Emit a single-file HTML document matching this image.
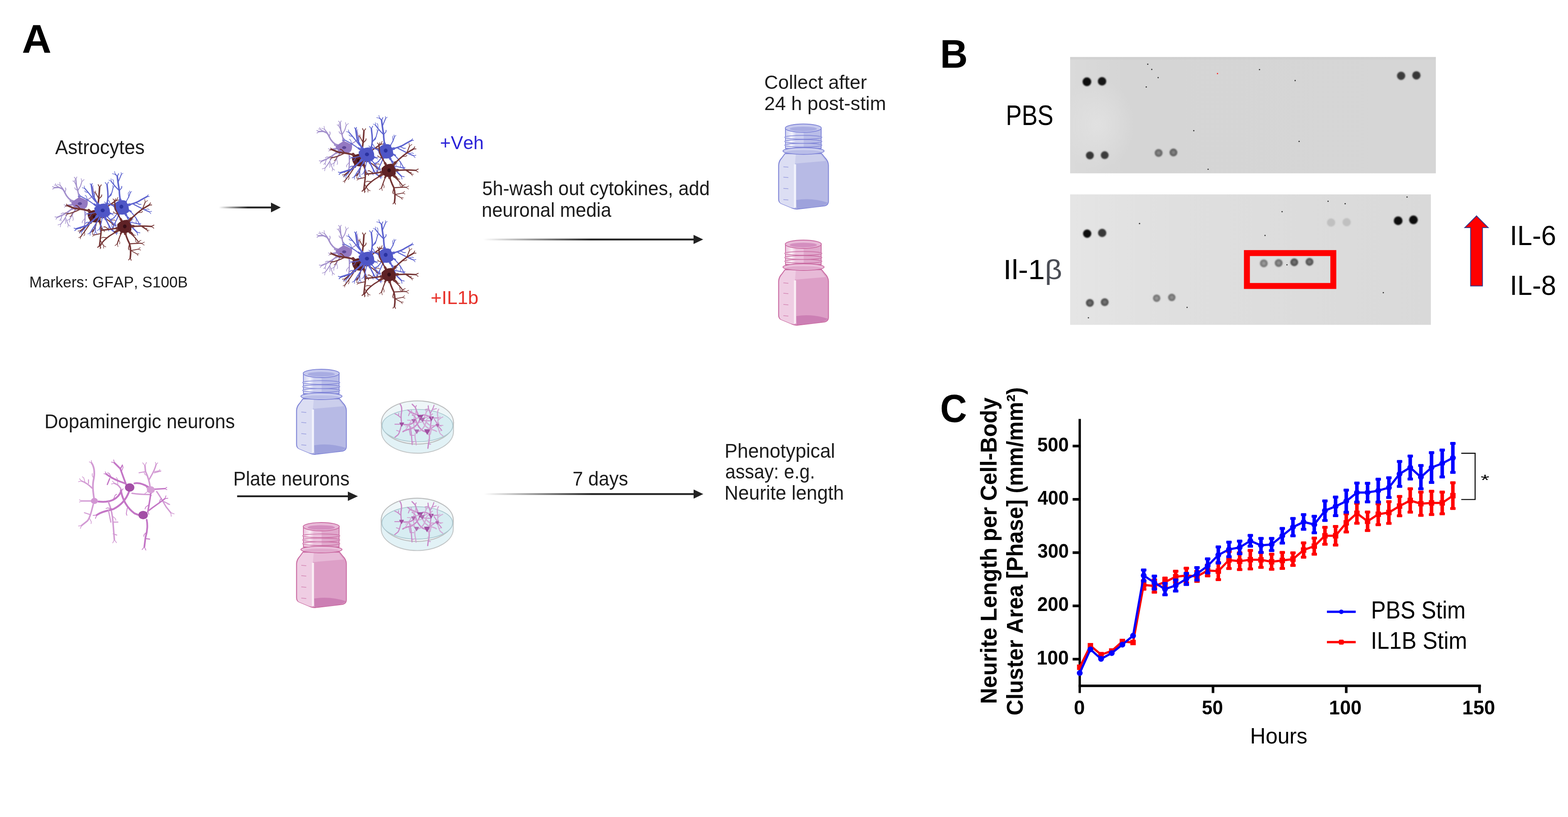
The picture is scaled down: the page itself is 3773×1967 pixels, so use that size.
<!DOCTYPE html>
<html><head><meta charset="utf-8"><title>Figure</title>
<style>
html,body{margin:0;padding:0;background:#fff;}
svg{display:block;}
text{font-family:"Liberation Sans",Arial,sans-serif;font-kerning:none;font-variant-ligatures:none;}
</style></head>
<body>
<svg width="3773" height="1967" viewBox="0 0 3773 1967">
<defs>
<linearGradient id="g1" gradientUnits="userSpaceOnUse" x1="526.6" y1="0" x2="596.6" y2="0"><stop offset="0" stop-color="#222" stop-opacity="0"/><stop offset="1" stop-color="#222" stop-opacity="1"/></linearGradient>
<linearGradient id="g2" gradientUnits="userSpaceOnUse" x1="1162.0" y1="0" x2="1422.0" y2="0"><stop offset="0" stop-color="#222" stop-opacity="0"/><stop offset="1" stop-color="#222" stop-opacity="1"/></linearGradient>
<linearGradient id="g3" gradientUnits="userSpaceOnUse" x1="1164.4" y1="0" x2="1424.4" y2="0"><stop offset="0" stop-color="#222" stop-opacity="0"/><stop offset="1" stop-color="#222" stop-opacity="1"/></linearGradient>
<filter id="cblur" x="-10%" y="-10%" width="120%" height="120%"><feGaussianBlur stdDeviation="4"/></filter>
<filter id="blur1" x="-50%" y="-50%" width="200%" height="200%"><feGaussianBlur stdDeviation="1.6"/></filter>
<linearGradient id="bl1" x1="0" y1="0" x2="1" y2="0"><stop offset="0" stop-color="#dadada"/><stop offset="0.15" stop-color="#d5d5d5"/><stop offset="1" stop-color="#d6d6d6"/></linearGradient>
<linearGradient id="bl2" x1="0" y1="0" x2="1" y2="0"><stop offset="0" stop-color="#e5e5e5"/><stop offset="0.3" stop-color="#dfdfdf"/><stop offset="1" stop-color="#d9d9d9"/></linearGradient>
<radialGradient id="bl1h" cx="0.5" cy="0.5" r="0.5"><stop offset="0" stop-color="#e2e2e2" stop-opacity="0.9"/><stop offset="1" stop-color="#e2e2e2" stop-opacity="0"/></radialGradient>
<clipPath id="cb1"><rect x="2575" y="137.3" width="880" height="280"/></clipPath>
<radialGradient id="sp1"><stop offset="0" stop-color="rgb(145,145,145)"/><stop offset="0.45" stop-color="rgb(120,120,120)"/><stop offset="0.75" stop-color="rgb(100,100,100)"/><stop offset="1" stop-color="rgb(110,110,110)"/></radialGradient>
<radialGradient id="sp2"><stop offset="0" stop-color="rgb(140,140,140)"/><stop offset="0.45" stop-color="rgb(115,115,115)"/><stop offset="0.75" stop-color="rgb(95,95,95)"/><stop offset="1" stop-color="rgb(105,105,105)"/></radialGradient>
<radialGradient id="sp3"><stop offset="0" stop-color="rgb(163,163,163)"/><stop offset="0.45" stop-color="rgb(138,138,138)"/><stop offset="0.75" stop-color="rgb(118,118,118)"/><stop offset="1" stop-color="rgb(128,128,128)"/></radialGradient>
<radialGradient id="sp4"><stop offset="0" stop-color="rgb(153,153,153)"/><stop offset="0.45" stop-color="rgb(128,128,128)"/><stop offset="0.75" stop-color="rgb(108,108,108)"/><stop offset="1" stop-color="rgb(118,118,118)"/></radialGradient>
<radialGradient id="sp5"><stop offset="0" stop-color="rgb(123,123,123)"/><stop offset="0.45" stop-color="rgb(98,98,98)"/><stop offset="0.75" stop-color="rgb(78,78,78)"/><stop offset="1" stop-color="rgb(88,88,88)"/></radialGradient>
<radialGradient id="sp6"><stop offset="0" stop-color="rgb(127,127,127)"/><stop offset="0.45" stop-color="rgb(102,102,102)"/><stop offset="0.75" stop-color="rgb(82,82,82)"/><stop offset="1" stop-color="rgb(92,92,92)"/></radialGradient>
<radialGradient id="sp7"><stop offset="0" stop-color="rgb(120,120,120)"/><stop offset="0.45" stop-color="rgb(95,95,95)"/><stop offset="0.75" stop-color="rgb(75,75,75)"/><stop offset="1" stop-color="rgb(85,85,85)"/></radialGradient>
<radialGradient id="sp8"><stop offset="0" stop-color="rgb(125,125,125)"/><stop offset="0.45" stop-color="rgb(100,100,100)"/><stop offset="0.75" stop-color="rgb(80,80,80)"/><stop offset="1" stop-color="rgb(90,90,90)"/></radialGradient>
<radialGradient id="sp9"><stop offset="0" stop-color="rgb(160,160,160)"/><stop offset="0.45" stop-color="rgb(135,135,135)"/><stop offset="0.75" stop-color="rgb(115,115,115)"/><stop offset="1" stop-color="rgb(125,125,125)"/></radialGradient>
<radialGradient id="sp10"><stop offset="0" stop-color="rgb(155,155,155)"/><stop offset="0.45" stop-color="rgb(130,130,130)"/><stop offset="0.75" stop-color="rgb(110,110,110)"/><stop offset="1" stop-color="rgb(120,120,120)"/></radialGradient>
</defs>
<rect width="3773" height="1967" fill="#fff"/>
<text x="52.7" y="127.0" font-size="95.93" font-weight="bold" fill="#000" textLength="71.0" lengthAdjust="spacingAndGlyphs">A</text>
<text x="132.8" y="371.3" font-size="48.40" fill="#1c1c1c" textLength="215.3" lengthAdjust="spacingAndGlyphs">Astrocytes</text>
<text x="70.5" y="692.0" font-size="36.34" fill="#1c1c1c" textLength="381.4" lengthAdjust="spacingAndGlyphs">Markers: GFAP, S100B</text>
<text x="1058.8" y="359.4" font-size="45.06" fill="#2b23d8" textLength="105.1" lengthAdjust="spacingAndGlyphs">+Veh</text>
<text x="1036.3" y="732.0" font-size="43.61" fill="#e8322b" textLength="115.1" lengthAdjust="spacingAndGlyphs">+IL1b</text>
<text x="1160.3" y="470.3" font-size="47.97" fill="#1c1c1c" textLength="547.5" lengthAdjust="spacingAndGlyphs">5h-wash out cytokines, add</text>
<text x="1159.0" y="522.3" font-size="47.97" fill="#1c1c1c" textLength="311.8" lengthAdjust="spacingAndGlyphs">neuronal media</text>
<text x="1839.0" y="213.9" font-size="45.79" fill="#1c1c1c" textLength="246.8" lengthAdjust="spacingAndGlyphs">Collect after</text>
<text x="1839.0" y="265.1" font-size="46.51" fill="#1c1c1c" textLength="293.1" lengthAdjust="spacingAndGlyphs">24 h post-stim</text>
<text x="106.9" y="1030.7" font-size="48.55" fill="#1c1c1c" textLength="458.5" lengthAdjust="spacingAndGlyphs">Dopaminergic neurons</text>
<text x="561.2" y="1168.8" font-size="47.38" fill="#1c1c1c" textLength="279.9" lengthAdjust="spacingAndGlyphs">Plate neurons</text>
<text x="1377.8" y="1168.9" font-size="47.97" fill="#1c1c1c" textLength="133.5" lengthAdjust="spacingAndGlyphs">7 days</text>
<text x="1743.5" y="1101.8" font-size="47.38" fill="#1c1c1c" textLength="265.9" lengthAdjust="spacingAndGlyphs">Phenotypical</text>
<text x="1745.1" y="1151.8" font-size="47.38" fill="#1c1c1c" textLength="216.0" lengthAdjust="spacingAndGlyphs">assay: e.g.</text>
<text x="1743.2" y="1203.0" font-size="47.38" fill="#1c1c1c" textLength="287.5" lengthAdjust="spacingAndGlyphs">Neurite length</text>
<rect x="526.6" y="497.30" width="127.4" height="4.4" fill="url(#g1)"/>
<polygon points="652.0,487.7 675.5,499.5 652.0,511.3" fill="#222"/>
<rect x="1162.0" y="574.40" width="508.8" height="4.4" fill="url(#g2)"/>
<polygon points="1668.8,565.6 1692.0,576.6 1668.8,587.6" fill="#222"/>
<rect x="1164.4" y="1187.30" width="506.6" height="4.4" fill="url(#g3)"/>
<polygon points="1669.0,1178.5 1692.2,1189.5 1669.0,1200.5" fill="#222"/>
<rect x="570.6" y="1192.60" width="268.4" height="4.4" fill="#222"/>
<polygon points="837.0,1183.5 861.2,1194.8 837.0,1206.1" fill="#222"/>
<g transform="translate(125.0 410.0) scale(0.16377)" fill="none" stroke-linecap="round" stroke-linejoin="round" filter="url(#cblur)">
<path d="M 330,470 C 260,440 220,400 190,330 S 140,270 100,250 L 40,255" stroke="#a390cc" stroke-width="21"/>
<path d="M 40,255 l -32,-16 M 40,255 l -29,21 M 190,330 l 15,-51 M 205,279 l -7,-21" stroke="#a390cc" stroke-width="11"/>
<path d="M 190,330 L 160,270 L 120,220" stroke="#a390cc" stroke-width="13"/>
<path d="M 120,220 l -5,-44 M 120,220 l -41,-15" stroke="#a390cc" stroke-width="8"/>
<path d="M 100,250 L 60,220" stroke="#a390cc" stroke-width="11"/>
<path d="M 60,220 l -10,-26 M 60,220 l -28,-3" stroke="#a390cc" stroke-width="8"/>
<path d="M 400,430 C 400,370 380,300 360,230 L 350,130" stroke="#a390cc" stroke-width="19"/>
<path d="M 350,130 l 16,-32 M 350,130 l -22,-29 M 380,300 l -37,-25 M 343,275 l -8,-20" stroke="#a390cc" stroke-width="10"/>
<path d="M 380,300 L 420,230 L 440,165" stroke="#a390cc" stroke-width="13"/>
<path d="M 440,165 l 33,-29 M 440,165 l -11,-43" stroke="#a390cc" stroke-width="8"/>
<path d="M 360,230 L 330,170" stroke="#a390cc" stroke-width="11"/>
<path d="M 330,170 l 2,-28 M 330,170 l -24,-15" stroke="#a390cc" stroke-width="8"/>
<path d="M 340,530 C 280,580 220,630 150,660 L 80,690" stroke="#a390cc" stroke-width="19"/>
<path d="M 80,690 l -36,-5 M 80,690 l -21,29 M 220,630 l -69,-0 M 151,630 l -18,12" stroke="#a390cc" stroke-width="10"/>
<path d="M 250,600 C 220,650 190,720 130,790" stroke="#a390cc" stroke-width="13"/>
<path d="M 130,790 l -42,14 M 130,790 l -7,43 M 190,720 l 13,43 M 203,763 l -7,21" stroke="#a390cc" stroke-width="8"/>
<path d="M 150,660 L 130,720" stroke="#a390cc" stroke-width="11"/>
<path d="M 130,720 l -21,18 M 130,720 l 6,27" stroke="#a390cc" stroke-width="8"/>
<path d="M 200,700 L 240,800" stroke="#a390cc" stroke-width="11"/>
<path d="M 240,800 l -6,35 M 240,800 l 29,22" stroke="#a390cc" stroke-width="8"/>
<path d="M 470,540 C 490,600 490,700 480,800 L 470,860" stroke="#a390cc" stroke-width="17"/>
<path d="M 470,860 l -29,33 M 470,860 l 17,41 M 490,700 l -44,53 M 446,753 l -2,22" stroke="#a390cc" stroke-width="9"/>
<path d="M 480,450 C 540,430 590,400 620,340 L 600,250" stroke="#a390cc" stroke-width="15"/>
<path d="M 600,250 l 9,-26 M 600,250 l -19,-20 M 590,400 l 15,-43 M 605,357 l 18,-13" stroke="#a390cc" stroke-width="8"/>
<path d="M 330,500 L 210,520" stroke="#a390cc" stroke-width="15"/>
<path d="M 210,520 l -33,-14 M 210,520 l -27,24" stroke="#a390cc" stroke-width="8"/>
<path d="M 360,540 C 330,600 300,660 260,720" stroke="#a390cc" stroke-width="13"/>
<path d="M 260,720 l -40,18 M 260,720 l -2,44 M 300,660 l 14,59 M 314,719 l -8,21" stroke="#a390cc" stroke-width="8"/>
<path d="M 410,490 L 278,448" stroke="#a390cc" stroke-width="37"/>
<path d="M 410,490 L 400,385" stroke="#a390cc" stroke-width="34"/>
<path d="M 410,490 L 295,568" stroke="#a390cc" stroke-width="34"/>
<path d="M 410,490 L 485,585" stroke="#a390cc" stroke-width="31"/>
<path d="M 410,490 L 525,435" stroke="#a390cc" stroke-width="27"/>
<path d="M 410,490 L 240,515" stroke="#a390cc" stroke-width="27"/>
<path d="M 410,490 L 338,585" stroke="#a390cc" stroke-width="24"/>
<path d="M 310,480 Q 360,440 405,415 Q 455,430 500,460 Q 505,505 485,535 Q 430,565 380,552 Q 335,530 310,480 Z" fill="#9479c2" stroke="none" transform="translate(410 490) scale(1.28) translate(-410 -490)"/>
<ellipse cx="410" cy="490" rx="30" ry="22" fill="#4e3b8c" opacity="0.8"/>
<path d="M 600,620 C 520,580 420,570 330,560 L 230,520" stroke="#753535" stroke-width="25"/>
<path d="M 230,520 l -17,-22 M 230,520 l -28,5 M 420,570 l -48,-49 M 372,521 l -22,-4" stroke="#753535" stroke-width="13"/>
<path d="M 420,570 C 360,600 300,630 230,640" stroke="#753535" stroke-width="15"/>
<path d="M 230,640 l -33,-14 M 230,640 l -28,23 M 300,630 l -18,41 M 282,671 l -19,12" stroke="#753535" stroke-width="8"/>
<path d="M 650,600 C 680,520 690,420 700,250" stroke="#753535" stroke-width="23"/>
<path d="M 700,250 l 25,-36 M 700,250 l -21,-39 M 690,420 l 38,-37 M 728,383 l 4,-22" stroke="#753535" stroke-width="12"/>
<path d="M 690,420 L 640,330" stroke="#753535" stroke-width="13"/>
<path d="M 640,330 l 1,-28 M 640,330 l -24,-14" stroke="#753535" stroke-width="8"/>
<path d="M 610,700 C 560,760 500,830 420,890" stroke="#753535" stroke-width="19"/>
<path d="M 420,890 l -36,3 M 420,890 l -13,33 M 500,830 l -68,11 M 432,841 l -16,15" stroke="#753535" stroke-width="10"/>
<path d="M 670,700 C 720,780 730,850 720,930 L 700,1100" stroke="#753535" stroke-width="21"/>
<path d="M 700,1100 l -27,35 M 700,1100 l 18,40 M 730,850 l 34,30 M 764,880 l 5,21" stroke="#753535" stroke-width="11"/>
<path d="M 720,930 L 620,950" stroke="#753535" stroke-width="13"/>
<path d="M 620,950 l -26,-10 M 620,950 l -21,19" stroke="#753535" stroke-width="8"/>
<path d="M 710,1030 L 760,1110" stroke="#753535" stroke-width="11"/>
<path d="M 760,1110 l 0,36 M 760,1110 l 32,16" stroke="#753535" stroke-width="8"/>
<path d="M 690,620 C 780,560 860,500 950,440" stroke="#753535" stroke-width="19"/>
<path d="M 950,440 l 44,-2 M 950,440 l 18,-40 M 860,500 l 69,4 M 929,504 l 19,-11" stroke="#753535" stroke-width="10"/>
<path d="M 600,700 C 560,800 480,900 420,980" stroke="#753535" stroke-width="15"/>
<path d="M 420,980 l -26,10 M 420,980 l -3,28 M 480,900 l 1,45 M 481,945 l -12,18" stroke="#753535" stroke-width="8"/>
<path d="M 650,700 C 660,780 640,850 600,900" stroke="#753535" stroke-width="15"/>
<path d="M 600,900 l -34,12 M 600,900 l -4,36 M 640,850 l -44,30 M 596,880 l -8,20" stroke="#753535" stroke-width="8"/>
<path d="M 700,660 C 780,700 850,740 900,800" stroke="#753535" stroke-width="15"/>
<path d="M 900,800 l 6,44 M 900,800 l 42,14 M 850,740 l 60,-11 M 910,729 l 20,9" stroke="#753535" stroke-width="8"/>
<path d="M 622,682 L 540,590" stroke="#753535" stroke-width="44"/>
<path d="M 622,682 L 672,540" stroke="#753535" stroke-width="41"/>
<path d="M 622,682 L 572,745" stroke="#753535" stroke-width="34"/>
<path d="M 622,682 L 708,760" stroke="#753535" stroke-width="37"/>
<path d="M 622,682 L 758,575" stroke="#753535" stroke-width="34"/>
<path d="M 622,682 L 570,775" stroke="#753535" stroke-width="27"/>
<path d="M 622,682 L 658,760" stroke="#753535" stroke-width="27"/>
<path d="M 622,682 L 760,690" stroke="#753535" stroke-width="27"/>
<path d="M 545,645 Q 600,590 665,610 Q 705,665 692,730 Q 640,760 588,740 Q 545,705 545,645 Z" fill="#5f2326" stroke="none" transform="translate(622 682) scale(1.28) translate(-622 -682)"/>
<ellipse cx="622" cy="682" rx="24" ry="24" fill="#2a0c0e" opacity="0.8"/>
<path d="M 700,540 C 660,480 620,420 600,360 L 580,220" stroke="#5d64cf" stroke-width="23"/>
<path d="M 580,220 l 11,-26 M 580,220 l -18,-22 M 620,420 l 8,-69 M 628,351 l -10,-19" stroke="#5d64cf" stroke-width="12"/>
<path d="M 640,460 C 590,400 540,330 480,265" stroke="#5d64cf" stroke-width="15"/>
<path d="M 480,265 l -7,-35 M 480,265 l -35,-10 M 540,330 l -44,-11 M 496,319 l -15,-17" stroke="#5d64cf" stroke-width="8"/>
<path d="M 790,540 C 820,470 830,400 820,310 L 810,215" stroke="#5d64cf" stroke-width="21"/>
<path d="M 810,215 l 19,-40 M 810,215 l -27,-35 M 830,400 l 40,-35 M 870,365 l 5,-21" stroke="#5d64cf" stroke-width="11"/>
<path d="M 830,400 L 880,330 L 900,250" stroke="#5d64cf" stroke-width="13"/>
<path d="M 900,250 l 20,-20 M 900,250 l -8,-27" stroke="#5d64cf" stroke-width="8"/>
<path d="M 700,640 C 640,700 580,760 520,810 L 360,860" stroke="#5d64cf" stroke-width="23"/>
<path d="M 360,860 l -35,-9 M 360,860 l -24,27 M 580,760 l -69,6 M 511,766 l -17,14" stroke="#5d64cf" stroke-width="12"/>
<path d="M 520,810 L 440,900" stroke="#5d64cf" stroke-width="13"/>
<path d="M 440,900 l -42,13 M 440,900 l -8,43" stroke="#5d64cf" stroke-width="8"/>
<path d="M 760,650 C 800,740 840,820 870,870 L 940,920" stroke="#5d64cf" stroke-width="19"/>
<path d="M 940,920 l 11,26 M 940,920 l 28,2 M 840,820 l -12,52 M 828,872 l 8,21" stroke="#5d64cf" stroke-width="10"/>
<path d="M 720,660 C 680,740 620,820 560,920" stroke="#5d64cf" stroke-width="15"/>
<path d="M 560,920 l -32,17 M 560,920 l 0,36 M 620,820 l 3,61 M 623,881 l -11,19" stroke="#5d64cf" stroke-width="8"/>
<path d="M 640,800 L 640,900" stroke="#5d64cf" stroke-width="11"/>
<path d="M 640,900 l -23,38 M 640,900 l 23,38" stroke="#5d64cf" stroke-width="8"/>
<path d="M 800,620 L 880,640" stroke="#5d64cf" stroke-width="15"/>
<path d="M 880,640 l 20,20 M 880,640 l 27,-8" stroke="#5d64cf" stroke-width="8"/>
<path d="M 690,560 C 600,480 520,430 420,380" stroke="#5d64cf" stroke-width="15"/>
<path d="M 420,380 l -19,-31 M 420,380 l -36,3 M 520,430 l -16,-50 M 504,380 l -17,-13" stroke="#5d64cf" stroke-width="8"/>
<path d="M 740,640 C 740,720 720,800 700,860" stroke="#5d64cf" stroke-width="13"/>
<path d="M 700,860 l -34,28 M 700,860 l 10,43 M 720,800 l 27,55 M 747,855 l -3,22" stroke="#5d64cf" stroke-width="8"/>
<path d="M 780,630 C 830,700 880,760 920,800" stroke="#5d64cf" stroke-width="13"/>
<path d="M 920,800 l 7,27 M 920,800 l 27,7 M 880,760 l -0,69 M 880,829 l 12,18" stroke="#5d64cf" stroke-width="8"/>
<path d="M 700,600 C 640,620 580,640 520,640" stroke="#5d64cf" stroke-width="13"/>
<path d="M 520,640 l -31,-19 M 520,640 l -31,19 M 580,640 l -23,38 M 557,678 l -20,9" stroke="#5d64cf" stroke-width="8"/>
<path d="M 745,590 L 670,495" stroke="#5d64cf" stroke-width="41"/>
<path d="M 745,590 L 812,488" stroke="#5d64cf" stroke-width="37"/>
<path d="M 745,590 L 655,685" stroke="#5d64cf" stroke-width="41"/>
<path d="M 745,590 L 790,718" stroke="#5d64cf" stroke-width="34"/>
<path d="M 745,590 L 690,720" stroke="#5d64cf" stroke-width="27"/>
<path d="M 745,590 L 860,635" stroke="#5d64cf" stroke-width="27"/>
<path d="M 745,590 L 622,500" stroke="#5d64cf" stroke-width="27"/>
<path d="M 745,590 L 740,700" stroke="#5d64cf" stroke-width="24"/>
<path d="M 745,590 L 818,682" stroke="#5d64cf" stroke-width="24"/>
<path d="M 745,590 L 655,615" stroke="#5d64cf" stroke-width="24"/>
<path d="M 650,560 Q 720,495 795,515 Q 840,570 825,645 Q 760,690 700,655 Q 645,615 650,560 Z" fill="#5057c6" stroke="none" transform="translate(745 590) scale(1.28) translate(-745 -590)"/>
<ellipse cx="745" cy="590" rx="30" ry="26" fill="#232a96" opacity="0.8"/>
<path d="M 1010,480 C 1000,420 990,360 990,300 C 980,240 970,180 960,90" stroke="#5d64cf" stroke-width="23"/>
<path d="M 960,90 l 19,-40 M 960,90 l -27,-35 M 990,300 l 34,-41 M 1024,259 l 2,-22" stroke="#5d64cf" stroke-width="12"/>
<path d="M 970,180 L 1020,60" stroke="#5d64cf" stroke-width="13"/>
<path d="M 1020,60 l 23,-16 M 1020,60 l -4,-28" stroke="#5d64cf" stroke-width="8"/>
<path d="M 990,300 C 950,260 910,220 870,160" stroke="#5d64cf" stroke-width="15"/>
<path d="M 870,160 l -1,-36 M 870,160 l -33,-15 M 910,220 l -6,-69 M 904,151 l -14,-17" stroke="#5d64cf" stroke-width="8"/>
<path d="M 960,90 L 930,60" stroke="#5d64cf" stroke-width="11"/>
<path d="M 930,60 l -10,-43 M 930,60 l -43,-10" stroke="#5d64cf" stroke-width="8"/>
<path d="M 1080,520 C 1160,500 1240,480 1300,440 L 1400,385" stroke="#5d64cf" stroke-width="21"/>
<path d="M 1400,385 l 28,1 M 1400,385 l 14,-24 M 1240,480 l 48,23 M 1288,503 l 22,-3" stroke="#5d64cf" stroke-width="11"/>
<path d="M 1200,500 C 1280,540 1350,580 1430,610" stroke="#5d64cf" stroke-width="15"/>
<path d="M 1430,610 l 22,28 M 1430,610 l 35,-7 M 1350,580 l 60,-11 M 1410,569 l 20,9" stroke="#5d64cf" stroke-width="8"/>
<path d="M 1060,590 C 1100,680 1140,760 1180,840 L 1250,910" stroke="#5d64cf" stroke-width="19"/>
<path d="M 1250,910 l 10,43 M 1250,910 l 43,10 M 1140,760 l -16,67 M 1124,827 l 8,21" stroke="#5d64cf" stroke-width="10"/>
<path d="M 1140,760 L 1280,790" stroke="#5d64cf" stroke-width="13"/>
<path d="M 1280,790 l 20,19 M 1280,790 l 26,-9" stroke="#5d64cf" stroke-width="8"/>
<path d="M 960,540 C 900,520 860,500 800,490" stroke="#5d64cf" stroke-width="19"/>
<path d="M 800,490 l -27,-24 M 800,490 l -33,14 M 860,500 l -21,-49 M 839,451 l -19,-12" stroke="#5d64cf" stroke-width="10"/>
<path d="M 1000,610 C 970,690 930,770 890,850" stroke="#5d64cf" stroke-width="15"/>
<path d="M 890,850 l -37,23 M 890,850 l 4,44 M 930,770 l 14,59 M 944,829 l -8,21" stroke="#5d64cf" stroke-width="8"/>
<path d="M 1100,560 C 1180,620 1240,700 1280,780" stroke="#5d64cf" stroke-width="13"/>
<path d="M 1280,780 l -2,28 M 1280,780 l 24,15 M 1240,700 l -4,69 M 1236,769 l 11,19" stroke="#5d64cf" stroke-width="8"/>
<path d="M 1050,600 C 1080,650 1120,700 1160,720" stroke="#5d64cf" stroke-width="13"/>
<path d="M 1160,720 l 19,31 M 1160,720 l 36,-3 M 1120,700 l 44,9 M 1164,709 l 15,16" stroke="#5d64cf" stroke-width="8"/>
<path d="M 980,600 C 950,650 920,700 880,720" stroke="#5d64cf" stroke-width="13"/>
<path d="M 880,720 l -44,-4 M 880,720 l -23,37 M 920,700 l -50,17 M 870,717 l -13,18" stroke="#5d64cf" stroke-width="8"/>
<path d="M 1060,500 C 1100,450 1130,400 1150,330" stroke="#5d64cf" stroke-width="13"/>
<path d="M 1150,330 l 21,-19 M 1150,330 l -8,-27 M 1130,400 l -10,-60 M 1120,340 l 9,-20" stroke="#5d64cf" stroke-width="8"/>
<path d="M 1020,535 L 1002,435" stroke="#5d64cf" stroke-width="41"/>
<path d="M 1020,535 L 1140,505" stroke="#5d64cf" stroke-width="37"/>
<path d="M 1020,535 L 1090,658" stroke="#5d64cf" stroke-width="34"/>
<path d="M 1020,535 L 915,525" stroke="#5d64cf" stroke-width="34"/>
<path d="M 1020,535 L 978,670" stroke="#5d64cf" stroke-width="27"/>
<path d="M 1020,535 L 1160,605" stroke="#5d64cf" stroke-width="24"/>
<path d="M 1020,535 L 1072,638" stroke="#5d64cf" stroke-width="24"/>
<path d="M 1020,535 L 958,638" stroke="#5d64cf" stroke-width="24"/>
<path d="M 1020,535 L 1090,462" stroke="#5d64cf" stroke-width="24"/>
<path d="M 935,510 Q 990,445 1065,465 Q 1115,520 1105,595 Q 1040,645 978,615 Q 925,570 935,510 Z" fill="#5057c6" stroke="none" transform="translate(1020 535) scale(1.28) translate(-1020 -535)"/>
<ellipse cx="1020" cy="535" rx="28" ry="30" fill="#232a96" opacity="0.8"/>
<path d="M 1070,880 C 1080,950 1110,1020 1140,1080 C 1160,1150 1160,1220 1150,1290" stroke="#753535" stroke-width="23"/>
<path d="M 1150,1290 l -23,28 M 1150,1290 l 14,33 M 1140,1080 l -16,67 M 1124,1147 l 8,21" stroke="#753535" stroke-width="12"/>
<path d="M 1140,1080 C 1200,1080 1260,1070 1320,1075" stroke="#753535" stroke-width="15"/>
<path d="M 1320,1075 l 35,26 M 1320,1075 l 39,-20 M 1260,1070 l 29,-34 M 1289,1036 l 21,-6" stroke="#753535" stroke-width="8"/>
<path d="M 1160,1180 L 1250,1230" stroke="#753535" stroke-width="11"/>
<path d="M 1250,1230 l 14,24 M 1250,1230 l 28,-1" stroke="#753535" stroke-width="8"/>
<path d="M 1160,1180 L 1270,1160" stroke="#753535" stroke-width="11"/>
<path d="M 1270,1160 l 34,13 M 1270,1160 l 27,-24" stroke="#753535" stroke-width="8"/>
<path d="M 1130,830 C 1220,820 1320,815 1460,825" stroke="#753535" stroke-width="21"/>
<path d="M 1460,825 l 36,26 M 1460,825 l 39,-20 M 1320,815 l 55,42 M 1375,857 l 22,1" stroke="#753535" stroke-width="11"/>
<path d="M 1300,815 L 1400,880" stroke="#753535" stroke-width="13"/>
<path d="M 1400,880 l 12,25 M 1400,880 l 28,1" stroke="#753535" stroke-width="8"/>
<path d="M 1110,770 C 1180,690 1260,620 1330,570 L 1430,510" stroke="#753535" stroke-width="21"/>
<path d="M 1430,510 l 36,0 M 1430,510 l 17,-32 M 1260,620 l 53,-1 M 1313,619 l 18,-13" stroke="#753535" stroke-width="11"/>
<path d="M 1330,570 L 1370,470" stroke="#753535" stroke-width="13"/>
<path d="M 1370,470 l 35,-26 M 1370,470 l -7,-43" stroke="#753535" stroke-width="8"/>
<path d="M 1010,840 C 930,860 840,870 740,880" stroke="#753535" stroke-width="21"/>
<path d="M 740,880 l -25,-12 M 740,880 l -22,17 M 840,870 l -57,-38 M 783,832 l -22,0" stroke="#753535" stroke-width="11"/>
<path d="M 1040,770 C 1000,700 960,640 930,560 L 920,450" stroke="#753535" stroke-width="19"/>
<path d="M 920,450 l 16,-32 M 920,450 l -22,-29 M 960,640 l -43,-13 M 917,627 l -14,-17" stroke="#753535" stroke-width="10"/>
<path d="M 1000,880 C 900,920 800,990 740,1060 L 710,1110" stroke="#753535" stroke-width="19"/>
<path d="M 710,1110 l -39,20 M 710,1110 l 0,44 M 800,990 l -53,-5 M 747,985 l -19,11" stroke="#753535" stroke-width="10"/>
<path d="M 1120,870 L 1200,950" stroke="#753535" stroke-width="13"/>
<path d="M 1200,950 l 7,27 M 1200,950 l 27,7" stroke="#753535" stroke-width="8"/>
<path d="M 1100,880 C 1160,930 1220,980 1260,1040" stroke="#753535" stroke-width="15"/>
<path d="M 1260,1040 l 1,36 M 1260,1040 l 33,15 M 1220,980 l 12,68 M 1232,1048 l 15,16" stroke="#753535" stroke-width="8"/>
<path d="M 1040,880 C 1000,950 980,1020 960,1080" stroke="#753535" stroke-width="15"/>
<path d="M 960,1080 l -34,28 M 960,1080 l 10,43 M 980,1020 l 18,41 M 998,1061 l -4,22" stroke="#753535" stroke-width="8"/>
<path d="M 1070,825 L 1078,932" stroke="#753535" stroke-width="41"/>
<path d="M 1070,825 L 1198,822" stroke="#753535" stroke-width="37"/>
<path d="M 1070,825 L 1162,710" stroke="#753535" stroke-width="37"/>
<path d="M 1070,825 L 950,855" stroke="#753535" stroke-width="37"/>
<path d="M 1070,825 L 1010,718" stroke="#753535" stroke-width="34"/>
<path d="M 1070,825 L 925,910" stroke="#753535" stroke-width="34"/>
<path d="M 1070,825 L 1180,930" stroke="#753535" stroke-width="24"/>
<path d="M 1070,825 L 1145,918" stroke="#753535" stroke-width="27"/>
<path d="M 1070,825 L 1010,932" stroke="#753535" stroke-width="27"/>
<path d="M 985,800 Q 1030,745 1105,750 Q 1155,800 1145,872 Q 1090,915 1028,895 Q 975,860 985,800 Z" fill="#5f2326" stroke="none" transform="translate(1070 825) scale(1.28) translate(-1070 -825)"/>
<ellipse cx="1070" cy="825" rx="26" ry="28" fill="#2a0c0e" opacity="0.8"/>
</g>
<g transform="translate(761.0 275.0) scale(0.16377)" fill="none" stroke-linecap="round" stroke-linejoin="round" filter="url(#cblur)">
<path d="M 330,470 C 260,440 220,400 190,330 S 140,270 100,250 L 40,255" stroke="#a390cc" stroke-width="21"/>
<path d="M 40,255 l -32,-16 M 40,255 l -29,21 M 190,330 l 15,-51 M 205,279 l -7,-21" stroke="#a390cc" stroke-width="11"/>
<path d="M 190,330 L 160,270 L 120,220" stroke="#a390cc" stroke-width="13"/>
<path d="M 120,220 l -5,-44 M 120,220 l -41,-15" stroke="#a390cc" stroke-width="8"/>
<path d="M 100,250 L 60,220" stroke="#a390cc" stroke-width="11"/>
<path d="M 60,220 l -10,-26 M 60,220 l -28,-3" stroke="#a390cc" stroke-width="8"/>
<path d="M 400,430 C 400,370 380,300 360,230 L 350,130" stroke="#a390cc" stroke-width="19"/>
<path d="M 350,130 l 16,-32 M 350,130 l -22,-29 M 380,300 l -37,-25 M 343,275 l -8,-20" stroke="#a390cc" stroke-width="10"/>
<path d="M 380,300 L 420,230 L 440,165" stroke="#a390cc" stroke-width="13"/>
<path d="M 440,165 l 33,-29 M 440,165 l -11,-43" stroke="#a390cc" stroke-width="8"/>
<path d="M 360,230 L 330,170" stroke="#a390cc" stroke-width="11"/>
<path d="M 330,170 l 2,-28 M 330,170 l -24,-15" stroke="#a390cc" stroke-width="8"/>
<path d="M 340,530 C 280,580 220,630 150,660 L 80,690" stroke="#a390cc" stroke-width="19"/>
<path d="M 80,690 l -36,-5 M 80,690 l -21,29 M 220,630 l -69,-0 M 151,630 l -18,12" stroke="#a390cc" stroke-width="10"/>
<path d="M 250,600 C 220,650 190,720 130,790" stroke="#a390cc" stroke-width="13"/>
<path d="M 130,790 l -42,14 M 130,790 l -7,43 M 190,720 l 13,43 M 203,763 l -7,21" stroke="#a390cc" stroke-width="8"/>
<path d="M 150,660 L 130,720" stroke="#a390cc" stroke-width="11"/>
<path d="M 130,720 l -21,18 M 130,720 l 6,27" stroke="#a390cc" stroke-width="8"/>
<path d="M 200,700 L 240,800" stroke="#a390cc" stroke-width="11"/>
<path d="M 240,800 l -6,35 M 240,800 l 29,22" stroke="#a390cc" stroke-width="8"/>
<path d="M 470,540 C 490,600 490,700 480,800 L 470,860" stroke="#a390cc" stroke-width="17"/>
<path d="M 470,860 l -29,33 M 470,860 l 17,41 M 490,700 l -44,53 M 446,753 l -2,22" stroke="#a390cc" stroke-width="9"/>
<path d="M 480,450 C 540,430 590,400 620,340 L 600,250" stroke="#a390cc" stroke-width="15"/>
<path d="M 600,250 l 9,-26 M 600,250 l -19,-20 M 590,400 l 15,-43 M 605,357 l 18,-13" stroke="#a390cc" stroke-width="8"/>
<path d="M 330,500 L 210,520" stroke="#a390cc" stroke-width="15"/>
<path d="M 210,520 l -33,-14 M 210,520 l -27,24" stroke="#a390cc" stroke-width="8"/>
<path d="M 360,540 C 330,600 300,660 260,720" stroke="#a390cc" stroke-width="13"/>
<path d="M 260,720 l -40,18 M 260,720 l -2,44 M 300,660 l 14,59 M 314,719 l -8,21" stroke="#a390cc" stroke-width="8"/>
<path d="M 410,490 L 278,448" stroke="#a390cc" stroke-width="37"/>
<path d="M 410,490 L 400,385" stroke="#a390cc" stroke-width="34"/>
<path d="M 410,490 L 295,568" stroke="#a390cc" stroke-width="34"/>
<path d="M 410,490 L 485,585" stroke="#a390cc" stroke-width="31"/>
<path d="M 410,490 L 525,435" stroke="#a390cc" stroke-width="27"/>
<path d="M 410,490 L 240,515" stroke="#a390cc" stroke-width="27"/>
<path d="M 410,490 L 338,585" stroke="#a390cc" stroke-width="24"/>
<path d="M 310,480 Q 360,440 405,415 Q 455,430 500,460 Q 505,505 485,535 Q 430,565 380,552 Q 335,530 310,480 Z" fill="#9479c2" stroke="none" transform="translate(410 490) scale(1.28) translate(-410 -490)"/>
<ellipse cx="410" cy="490" rx="30" ry="22" fill="#4e3b8c" opacity="0.8"/>
<path d="M 600,620 C 520,580 420,570 330,560 L 230,520" stroke="#753535" stroke-width="25"/>
<path d="M 230,520 l -17,-22 M 230,520 l -28,5 M 420,570 l -48,-49 M 372,521 l -22,-4" stroke="#753535" stroke-width="13"/>
<path d="M 420,570 C 360,600 300,630 230,640" stroke="#753535" stroke-width="15"/>
<path d="M 230,640 l -33,-14 M 230,640 l -28,23 M 300,630 l -18,41 M 282,671 l -19,12" stroke="#753535" stroke-width="8"/>
<path d="M 650,600 C 680,520 690,420 700,250" stroke="#753535" stroke-width="23"/>
<path d="M 700,250 l 25,-36 M 700,250 l -21,-39 M 690,420 l 38,-37 M 728,383 l 4,-22" stroke="#753535" stroke-width="12"/>
<path d="M 690,420 L 640,330" stroke="#753535" stroke-width="13"/>
<path d="M 640,330 l 1,-28 M 640,330 l -24,-14" stroke="#753535" stroke-width="8"/>
<path d="M 610,700 C 560,760 500,830 420,890" stroke="#753535" stroke-width="19"/>
<path d="M 420,890 l -36,3 M 420,890 l -13,33 M 500,830 l -68,11 M 432,841 l -16,15" stroke="#753535" stroke-width="10"/>
<path d="M 670,700 C 720,780 730,850 720,930 L 700,1100" stroke="#753535" stroke-width="21"/>
<path d="M 700,1100 l -27,35 M 700,1100 l 18,40 M 730,850 l 34,30 M 764,880 l 5,21" stroke="#753535" stroke-width="11"/>
<path d="M 720,930 L 620,950" stroke="#753535" stroke-width="13"/>
<path d="M 620,950 l -26,-10 M 620,950 l -21,19" stroke="#753535" stroke-width="8"/>
<path d="M 710,1030 L 760,1110" stroke="#753535" stroke-width="11"/>
<path d="M 760,1110 l 0,36 M 760,1110 l 32,16" stroke="#753535" stroke-width="8"/>
<path d="M 690,620 C 780,560 860,500 950,440" stroke="#753535" stroke-width="19"/>
<path d="M 950,440 l 44,-2 M 950,440 l 18,-40 M 860,500 l 69,4 M 929,504 l 19,-11" stroke="#753535" stroke-width="10"/>
<path d="M 600,700 C 560,800 480,900 420,980" stroke="#753535" stroke-width="15"/>
<path d="M 420,980 l -26,10 M 420,980 l -3,28 M 480,900 l 1,45 M 481,945 l -12,18" stroke="#753535" stroke-width="8"/>
<path d="M 650,700 C 660,780 640,850 600,900" stroke="#753535" stroke-width="15"/>
<path d="M 600,900 l -34,12 M 600,900 l -4,36 M 640,850 l -44,30 M 596,880 l -8,20" stroke="#753535" stroke-width="8"/>
<path d="M 700,660 C 780,700 850,740 900,800" stroke="#753535" stroke-width="15"/>
<path d="M 900,800 l 6,44 M 900,800 l 42,14 M 850,740 l 60,-11 M 910,729 l 20,9" stroke="#753535" stroke-width="8"/>
<path d="M 622,682 L 540,590" stroke="#753535" stroke-width="44"/>
<path d="M 622,682 L 672,540" stroke="#753535" stroke-width="41"/>
<path d="M 622,682 L 572,745" stroke="#753535" stroke-width="34"/>
<path d="M 622,682 L 708,760" stroke="#753535" stroke-width="37"/>
<path d="M 622,682 L 758,575" stroke="#753535" stroke-width="34"/>
<path d="M 622,682 L 570,775" stroke="#753535" stroke-width="27"/>
<path d="M 622,682 L 658,760" stroke="#753535" stroke-width="27"/>
<path d="M 622,682 L 760,690" stroke="#753535" stroke-width="27"/>
<path d="M 545,645 Q 600,590 665,610 Q 705,665 692,730 Q 640,760 588,740 Q 545,705 545,645 Z" fill="#5f2326" stroke="none" transform="translate(622 682) scale(1.28) translate(-622 -682)"/>
<ellipse cx="622" cy="682" rx="24" ry="24" fill="#2a0c0e" opacity="0.8"/>
<path d="M 700,540 C 660,480 620,420 600,360 L 580,220" stroke="#5d64cf" stroke-width="23"/>
<path d="M 580,220 l 11,-26 M 580,220 l -18,-22 M 620,420 l 8,-69 M 628,351 l -10,-19" stroke="#5d64cf" stroke-width="12"/>
<path d="M 640,460 C 590,400 540,330 480,265" stroke="#5d64cf" stroke-width="15"/>
<path d="M 480,265 l -7,-35 M 480,265 l -35,-10 M 540,330 l -44,-11 M 496,319 l -15,-17" stroke="#5d64cf" stroke-width="8"/>
<path d="M 790,540 C 820,470 830,400 820,310 L 810,215" stroke="#5d64cf" stroke-width="21"/>
<path d="M 810,215 l 19,-40 M 810,215 l -27,-35 M 830,400 l 40,-35 M 870,365 l 5,-21" stroke="#5d64cf" stroke-width="11"/>
<path d="M 830,400 L 880,330 L 900,250" stroke="#5d64cf" stroke-width="13"/>
<path d="M 900,250 l 20,-20 M 900,250 l -8,-27" stroke="#5d64cf" stroke-width="8"/>
<path d="M 700,640 C 640,700 580,760 520,810 L 360,860" stroke="#5d64cf" stroke-width="23"/>
<path d="M 360,860 l -35,-9 M 360,860 l -24,27 M 580,760 l -69,6 M 511,766 l -17,14" stroke="#5d64cf" stroke-width="12"/>
<path d="M 520,810 L 440,900" stroke="#5d64cf" stroke-width="13"/>
<path d="M 440,900 l -42,13 M 440,900 l -8,43" stroke="#5d64cf" stroke-width="8"/>
<path d="M 760,650 C 800,740 840,820 870,870 L 940,920" stroke="#5d64cf" stroke-width="19"/>
<path d="M 940,920 l 11,26 M 940,920 l 28,2 M 840,820 l -12,52 M 828,872 l 8,21" stroke="#5d64cf" stroke-width="10"/>
<path d="M 720,660 C 680,740 620,820 560,920" stroke="#5d64cf" stroke-width="15"/>
<path d="M 560,920 l -32,17 M 560,920 l 0,36 M 620,820 l 3,61 M 623,881 l -11,19" stroke="#5d64cf" stroke-width="8"/>
<path d="M 640,800 L 640,900" stroke="#5d64cf" stroke-width="11"/>
<path d="M 640,900 l -23,38 M 640,900 l 23,38" stroke="#5d64cf" stroke-width="8"/>
<path d="M 800,620 L 880,640" stroke="#5d64cf" stroke-width="15"/>
<path d="M 880,640 l 20,20 M 880,640 l 27,-8" stroke="#5d64cf" stroke-width="8"/>
<path d="M 690,560 C 600,480 520,430 420,380" stroke="#5d64cf" stroke-width="15"/>
<path d="M 420,380 l -19,-31 M 420,380 l -36,3 M 520,430 l -16,-50 M 504,380 l -17,-13" stroke="#5d64cf" stroke-width="8"/>
<path d="M 740,640 C 740,720 720,800 700,860" stroke="#5d64cf" stroke-width="13"/>
<path d="M 700,860 l -34,28 M 700,860 l 10,43 M 720,800 l 27,55 M 747,855 l -3,22" stroke="#5d64cf" stroke-width="8"/>
<path d="M 780,630 C 830,700 880,760 920,800" stroke="#5d64cf" stroke-width="13"/>
<path d="M 920,800 l 7,27 M 920,800 l 27,7 M 880,760 l -0,69 M 880,829 l 12,18" stroke="#5d64cf" stroke-width="8"/>
<path d="M 700,600 C 640,620 580,640 520,640" stroke="#5d64cf" stroke-width="13"/>
<path d="M 520,640 l -31,-19 M 520,640 l -31,19 M 580,640 l -23,38 M 557,678 l -20,9" stroke="#5d64cf" stroke-width="8"/>
<path d="M 745,590 L 670,495" stroke="#5d64cf" stroke-width="41"/>
<path d="M 745,590 L 812,488" stroke="#5d64cf" stroke-width="37"/>
<path d="M 745,590 L 655,685" stroke="#5d64cf" stroke-width="41"/>
<path d="M 745,590 L 790,718" stroke="#5d64cf" stroke-width="34"/>
<path d="M 745,590 L 690,720" stroke="#5d64cf" stroke-width="27"/>
<path d="M 745,590 L 860,635" stroke="#5d64cf" stroke-width="27"/>
<path d="M 745,590 L 622,500" stroke="#5d64cf" stroke-width="27"/>
<path d="M 745,590 L 740,700" stroke="#5d64cf" stroke-width="24"/>
<path d="M 745,590 L 818,682" stroke="#5d64cf" stroke-width="24"/>
<path d="M 745,590 L 655,615" stroke="#5d64cf" stroke-width="24"/>
<path d="M 650,560 Q 720,495 795,515 Q 840,570 825,645 Q 760,690 700,655 Q 645,615 650,560 Z" fill="#5057c6" stroke="none" transform="translate(745 590) scale(1.28) translate(-745 -590)"/>
<ellipse cx="745" cy="590" rx="30" ry="26" fill="#232a96" opacity="0.8"/>
<path d="M 1010,480 C 1000,420 990,360 990,300 C 980,240 970,180 960,90" stroke="#5d64cf" stroke-width="23"/>
<path d="M 960,90 l 19,-40 M 960,90 l -27,-35 M 990,300 l 34,-41 M 1024,259 l 2,-22" stroke="#5d64cf" stroke-width="12"/>
<path d="M 970,180 L 1020,60" stroke="#5d64cf" stroke-width="13"/>
<path d="M 1020,60 l 23,-16 M 1020,60 l -4,-28" stroke="#5d64cf" stroke-width="8"/>
<path d="M 990,300 C 950,260 910,220 870,160" stroke="#5d64cf" stroke-width="15"/>
<path d="M 870,160 l -1,-36 M 870,160 l -33,-15 M 910,220 l -6,-69 M 904,151 l -14,-17" stroke="#5d64cf" stroke-width="8"/>
<path d="M 960,90 L 930,60" stroke="#5d64cf" stroke-width="11"/>
<path d="M 930,60 l -10,-43 M 930,60 l -43,-10" stroke="#5d64cf" stroke-width="8"/>
<path d="M 1080,520 C 1160,500 1240,480 1300,440 L 1400,385" stroke="#5d64cf" stroke-width="21"/>
<path d="M 1400,385 l 28,1 M 1400,385 l 14,-24 M 1240,480 l 48,23 M 1288,503 l 22,-3" stroke="#5d64cf" stroke-width="11"/>
<path d="M 1200,500 C 1280,540 1350,580 1430,610" stroke="#5d64cf" stroke-width="15"/>
<path d="M 1430,610 l 22,28 M 1430,610 l 35,-7 M 1350,580 l 60,-11 M 1410,569 l 20,9" stroke="#5d64cf" stroke-width="8"/>
<path d="M 1060,590 C 1100,680 1140,760 1180,840 L 1250,910" stroke="#5d64cf" stroke-width="19"/>
<path d="M 1250,910 l 10,43 M 1250,910 l 43,10 M 1140,760 l -16,67 M 1124,827 l 8,21" stroke="#5d64cf" stroke-width="10"/>
<path d="M 1140,760 L 1280,790" stroke="#5d64cf" stroke-width="13"/>
<path d="M 1280,790 l 20,19 M 1280,790 l 26,-9" stroke="#5d64cf" stroke-width="8"/>
<path d="M 960,540 C 900,520 860,500 800,490" stroke="#5d64cf" stroke-width="19"/>
<path d="M 800,490 l -27,-24 M 800,490 l -33,14 M 860,500 l -21,-49 M 839,451 l -19,-12" stroke="#5d64cf" stroke-width="10"/>
<path d="M 1000,610 C 970,690 930,770 890,850" stroke="#5d64cf" stroke-width="15"/>
<path d="M 890,850 l -37,23 M 890,850 l 4,44 M 930,770 l 14,59 M 944,829 l -8,21" stroke="#5d64cf" stroke-width="8"/>
<path d="M 1100,560 C 1180,620 1240,700 1280,780" stroke="#5d64cf" stroke-width="13"/>
<path d="M 1280,780 l -2,28 M 1280,780 l 24,15 M 1240,700 l -4,69 M 1236,769 l 11,19" stroke="#5d64cf" stroke-width="8"/>
<path d="M 1050,600 C 1080,650 1120,700 1160,720" stroke="#5d64cf" stroke-width="13"/>
<path d="M 1160,720 l 19,31 M 1160,720 l 36,-3 M 1120,700 l 44,9 M 1164,709 l 15,16" stroke="#5d64cf" stroke-width="8"/>
<path d="M 980,600 C 950,650 920,700 880,720" stroke="#5d64cf" stroke-width="13"/>
<path d="M 880,720 l -44,-4 M 880,720 l -23,37 M 920,700 l -50,17 M 870,717 l -13,18" stroke="#5d64cf" stroke-width="8"/>
<path d="M 1060,500 C 1100,450 1130,400 1150,330" stroke="#5d64cf" stroke-width="13"/>
<path d="M 1150,330 l 21,-19 M 1150,330 l -8,-27 M 1130,400 l -10,-60 M 1120,340 l 9,-20" stroke="#5d64cf" stroke-width="8"/>
<path d="M 1020,535 L 1002,435" stroke="#5d64cf" stroke-width="41"/>
<path d="M 1020,535 L 1140,505" stroke="#5d64cf" stroke-width="37"/>
<path d="M 1020,535 L 1090,658" stroke="#5d64cf" stroke-width="34"/>
<path d="M 1020,535 L 915,525" stroke="#5d64cf" stroke-width="34"/>
<path d="M 1020,535 L 978,670" stroke="#5d64cf" stroke-width="27"/>
<path d="M 1020,535 L 1160,605" stroke="#5d64cf" stroke-width="24"/>
<path d="M 1020,535 L 1072,638" stroke="#5d64cf" stroke-width="24"/>
<path d="M 1020,535 L 958,638" stroke="#5d64cf" stroke-width="24"/>
<path d="M 1020,535 L 1090,462" stroke="#5d64cf" stroke-width="24"/>
<path d="M 935,510 Q 990,445 1065,465 Q 1115,520 1105,595 Q 1040,645 978,615 Q 925,570 935,510 Z" fill="#5057c6" stroke="none" transform="translate(1020 535) scale(1.28) translate(-1020 -535)"/>
<ellipse cx="1020" cy="535" rx="28" ry="30" fill="#232a96" opacity="0.8"/>
<path d="M 1070,880 C 1080,950 1110,1020 1140,1080 C 1160,1150 1160,1220 1150,1290" stroke="#753535" stroke-width="23"/>
<path d="M 1150,1290 l -23,28 M 1150,1290 l 14,33 M 1140,1080 l -16,67 M 1124,1147 l 8,21" stroke="#753535" stroke-width="12"/>
<path d="M 1140,1080 C 1200,1080 1260,1070 1320,1075" stroke="#753535" stroke-width="15"/>
<path d="M 1320,1075 l 35,26 M 1320,1075 l 39,-20 M 1260,1070 l 29,-34 M 1289,1036 l 21,-6" stroke="#753535" stroke-width="8"/>
<path d="M 1160,1180 L 1250,1230" stroke="#753535" stroke-width="11"/>
<path d="M 1250,1230 l 14,24 M 1250,1230 l 28,-1" stroke="#753535" stroke-width="8"/>
<path d="M 1160,1180 L 1270,1160" stroke="#753535" stroke-width="11"/>
<path d="M 1270,1160 l 34,13 M 1270,1160 l 27,-24" stroke="#753535" stroke-width="8"/>
<path d="M 1130,830 C 1220,820 1320,815 1460,825" stroke="#753535" stroke-width="21"/>
<path d="M 1460,825 l 36,26 M 1460,825 l 39,-20 M 1320,815 l 55,42 M 1375,857 l 22,1" stroke="#753535" stroke-width="11"/>
<path d="M 1300,815 L 1400,880" stroke="#753535" stroke-width="13"/>
<path d="M 1400,880 l 12,25 M 1400,880 l 28,1" stroke="#753535" stroke-width="8"/>
<path d="M 1110,770 C 1180,690 1260,620 1330,570 L 1430,510" stroke="#753535" stroke-width="21"/>
<path d="M 1430,510 l 36,0 M 1430,510 l 17,-32 M 1260,620 l 53,-1 M 1313,619 l 18,-13" stroke="#753535" stroke-width="11"/>
<path d="M 1330,570 L 1370,470" stroke="#753535" stroke-width="13"/>
<path d="M 1370,470 l 35,-26 M 1370,470 l -7,-43" stroke="#753535" stroke-width="8"/>
<path d="M 1010,840 C 930,860 840,870 740,880" stroke="#753535" stroke-width="21"/>
<path d="M 740,880 l -25,-12 M 740,880 l -22,17 M 840,870 l -57,-38 M 783,832 l -22,0" stroke="#753535" stroke-width="11"/>
<path d="M 1040,770 C 1000,700 960,640 930,560 L 920,450" stroke="#753535" stroke-width="19"/>
<path d="M 920,450 l 16,-32 M 920,450 l -22,-29 M 960,640 l -43,-13 M 917,627 l -14,-17" stroke="#753535" stroke-width="10"/>
<path d="M 1000,880 C 900,920 800,990 740,1060 L 710,1110" stroke="#753535" stroke-width="19"/>
<path d="M 710,1110 l -39,20 M 710,1110 l 0,44 M 800,990 l -53,-5 M 747,985 l -19,11" stroke="#753535" stroke-width="10"/>
<path d="M 1120,870 L 1200,950" stroke="#753535" stroke-width="13"/>
<path d="M 1200,950 l 7,27 M 1200,950 l 27,7" stroke="#753535" stroke-width="8"/>
<path d="M 1100,880 C 1160,930 1220,980 1260,1040" stroke="#753535" stroke-width="15"/>
<path d="M 1260,1040 l 1,36 M 1260,1040 l 33,15 M 1220,980 l 12,68 M 1232,1048 l 15,16" stroke="#753535" stroke-width="8"/>
<path d="M 1040,880 C 1000,950 980,1020 960,1080" stroke="#753535" stroke-width="15"/>
<path d="M 960,1080 l -34,28 M 960,1080 l 10,43 M 980,1020 l 18,41 M 998,1061 l -4,22" stroke="#753535" stroke-width="8"/>
<path d="M 1070,825 L 1078,932" stroke="#753535" stroke-width="41"/>
<path d="M 1070,825 L 1198,822" stroke="#753535" stroke-width="37"/>
<path d="M 1070,825 L 1162,710" stroke="#753535" stroke-width="37"/>
<path d="M 1070,825 L 950,855" stroke="#753535" stroke-width="37"/>
<path d="M 1070,825 L 1010,718" stroke="#753535" stroke-width="34"/>
<path d="M 1070,825 L 925,910" stroke="#753535" stroke-width="34"/>
<path d="M 1070,825 L 1180,930" stroke="#753535" stroke-width="24"/>
<path d="M 1070,825 L 1145,918" stroke="#753535" stroke-width="27"/>
<path d="M 1070,825 L 1010,932" stroke="#753535" stroke-width="27"/>
<path d="M 985,800 Q 1030,745 1105,750 Q 1155,800 1145,872 Q 1090,915 1028,895 Q 975,860 985,800 Z" fill="#5f2326" stroke="none" transform="translate(1070 825) scale(1.28) translate(-1070 -825)"/>
<ellipse cx="1070" cy="825" rx="26" ry="28" fill="#2a0c0e" opacity="0.8"/>
</g>
<g transform="translate(761.0 526.0) scale(0.16377)" fill="none" stroke-linecap="round" stroke-linejoin="round" filter="url(#cblur)">
<path d="M 330,470 C 260,440 220,400 190,330 S 140,270 100,250 L 40,255" stroke="#a390cc" stroke-width="21"/>
<path d="M 40,255 l -32,-16 M 40,255 l -29,21 M 190,330 l 15,-51 M 205,279 l -7,-21" stroke="#a390cc" stroke-width="11"/>
<path d="M 190,330 L 160,270 L 120,220" stroke="#a390cc" stroke-width="13"/>
<path d="M 120,220 l -5,-44 M 120,220 l -41,-15" stroke="#a390cc" stroke-width="8"/>
<path d="M 100,250 L 60,220" stroke="#a390cc" stroke-width="11"/>
<path d="M 60,220 l -10,-26 M 60,220 l -28,-3" stroke="#a390cc" stroke-width="8"/>
<path d="M 400,430 C 400,370 380,300 360,230 L 350,130" stroke="#a390cc" stroke-width="19"/>
<path d="M 350,130 l 16,-32 M 350,130 l -22,-29 M 380,300 l -37,-25 M 343,275 l -8,-20" stroke="#a390cc" stroke-width="10"/>
<path d="M 380,300 L 420,230 L 440,165" stroke="#a390cc" stroke-width="13"/>
<path d="M 440,165 l 33,-29 M 440,165 l -11,-43" stroke="#a390cc" stroke-width="8"/>
<path d="M 360,230 L 330,170" stroke="#a390cc" stroke-width="11"/>
<path d="M 330,170 l 2,-28 M 330,170 l -24,-15" stroke="#a390cc" stroke-width="8"/>
<path d="M 340,530 C 280,580 220,630 150,660 L 80,690" stroke="#a390cc" stroke-width="19"/>
<path d="M 80,690 l -36,-5 M 80,690 l -21,29 M 220,630 l -69,-0 M 151,630 l -18,12" stroke="#a390cc" stroke-width="10"/>
<path d="M 250,600 C 220,650 190,720 130,790" stroke="#a390cc" stroke-width="13"/>
<path d="M 130,790 l -42,14 M 130,790 l -7,43 M 190,720 l 13,43 M 203,763 l -7,21" stroke="#a390cc" stroke-width="8"/>
<path d="M 150,660 L 130,720" stroke="#a390cc" stroke-width="11"/>
<path d="M 130,720 l -21,18 M 130,720 l 6,27" stroke="#a390cc" stroke-width="8"/>
<path d="M 200,700 L 240,800" stroke="#a390cc" stroke-width="11"/>
<path d="M 240,800 l -6,35 M 240,800 l 29,22" stroke="#a390cc" stroke-width="8"/>
<path d="M 470,540 C 490,600 490,700 480,800 L 470,860" stroke="#a390cc" stroke-width="17"/>
<path d="M 470,860 l -29,33 M 470,860 l 17,41 M 490,700 l -44,53 M 446,753 l -2,22" stroke="#a390cc" stroke-width="9"/>
<path d="M 480,450 C 540,430 590,400 620,340 L 600,250" stroke="#a390cc" stroke-width="15"/>
<path d="M 600,250 l 9,-26 M 600,250 l -19,-20 M 590,400 l 15,-43 M 605,357 l 18,-13" stroke="#a390cc" stroke-width="8"/>
<path d="M 330,500 L 210,520" stroke="#a390cc" stroke-width="15"/>
<path d="M 210,520 l -33,-14 M 210,520 l -27,24" stroke="#a390cc" stroke-width="8"/>
<path d="M 360,540 C 330,600 300,660 260,720" stroke="#a390cc" stroke-width="13"/>
<path d="M 260,720 l -40,18 M 260,720 l -2,44 M 300,660 l 14,59 M 314,719 l -8,21" stroke="#a390cc" stroke-width="8"/>
<path d="M 410,490 L 278,448" stroke="#a390cc" stroke-width="37"/>
<path d="M 410,490 L 400,385" stroke="#a390cc" stroke-width="34"/>
<path d="M 410,490 L 295,568" stroke="#a390cc" stroke-width="34"/>
<path d="M 410,490 L 485,585" stroke="#a390cc" stroke-width="31"/>
<path d="M 410,490 L 525,435" stroke="#a390cc" stroke-width="27"/>
<path d="M 410,490 L 240,515" stroke="#a390cc" stroke-width="27"/>
<path d="M 410,490 L 338,585" stroke="#a390cc" stroke-width="24"/>
<path d="M 310,480 Q 360,440 405,415 Q 455,430 500,460 Q 505,505 485,535 Q 430,565 380,552 Q 335,530 310,480 Z" fill="#9479c2" stroke="none" transform="translate(410 490) scale(1.28) translate(-410 -490)"/>
<ellipse cx="410" cy="490" rx="30" ry="22" fill="#4e3b8c" opacity="0.8"/>
<path d="M 600,620 C 520,580 420,570 330,560 L 230,520" stroke="#753535" stroke-width="25"/>
<path d="M 230,520 l -17,-22 M 230,520 l -28,5 M 420,570 l -48,-49 M 372,521 l -22,-4" stroke="#753535" stroke-width="13"/>
<path d="M 420,570 C 360,600 300,630 230,640" stroke="#753535" stroke-width="15"/>
<path d="M 230,640 l -33,-14 M 230,640 l -28,23 M 300,630 l -18,41 M 282,671 l -19,12" stroke="#753535" stroke-width="8"/>
<path d="M 650,600 C 680,520 690,420 700,250" stroke="#753535" stroke-width="23"/>
<path d="M 700,250 l 25,-36 M 700,250 l -21,-39 M 690,420 l 38,-37 M 728,383 l 4,-22" stroke="#753535" stroke-width="12"/>
<path d="M 690,420 L 640,330" stroke="#753535" stroke-width="13"/>
<path d="M 640,330 l 1,-28 M 640,330 l -24,-14" stroke="#753535" stroke-width="8"/>
<path d="M 610,700 C 560,760 500,830 420,890" stroke="#753535" stroke-width="19"/>
<path d="M 420,890 l -36,3 M 420,890 l -13,33 M 500,830 l -68,11 M 432,841 l -16,15" stroke="#753535" stroke-width="10"/>
<path d="M 670,700 C 720,780 730,850 720,930 L 700,1100" stroke="#753535" stroke-width="21"/>
<path d="M 700,1100 l -27,35 M 700,1100 l 18,40 M 730,850 l 34,30 M 764,880 l 5,21" stroke="#753535" stroke-width="11"/>
<path d="M 720,930 L 620,950" stroke="#753535" stroke-width="13"/>
<path d="M 620,950 l -26,-10 M 620,950 l -21,19" stroke="#753535" stroke-width="8"/>
<path d="M 710,1030 L 760,1110" stroke="#753535" stroke-width="11"/>
<path d="M 760,1110 l 0,36 M 760,1110 l 32,16" stroke="#753535" stroke-width="8"/>
<path d="M 690,620 C 780,560 860,500 950,440" stroke="#753535" stroke-width="19"/>
<path d="M 950,440 l 44,-2 M 950,440 l 18,-40 M 860,500 l 69,4 M 929,504 l 19,-11" stroke="#753535" stroke-width="10"/>
<path d="M 600,700 C 560,800 480,900 420,980" stroke="#753535" stroke-width="15"/>
<path d="M 420,980 l -26,10 M 420,980 l -3,28 M 480,900 l 1,45 M 481,945 l -12,18" stroke="#753535" stroke-width="8"/>
<path d="M 650,700 C 660,780 640,850 600,900" stroke="#753535" stroke-width="15"/>
<path d="M 600,900 l -34,12 M 600,900 l -4,36 M 640,850 l -44,30 M 596,880 l -8,20" stroke="#753535" stroke-width="8"/>
<path d="M 700,660 C 780,700 850,740 900,800" stroke="#753535" stroke-width="15"/>
<path d="M 900,800 l 6,44 M 900,800 l 42,14 M 850,740 l 60,-11 M 910,729 l 20,9" stroke="#753535" stroke-width="8"/>
<path d="M 622,682 L 540,590" stroke="#753535" stroke-width="44"/>
<path d="M 622,682 L 672,540" stroke="#753535" stroke-width="41"/>
<path d="M 622,682 L 572,745" stroke="#753535" stroke-width="34"/>
<path d="M 622,682 L 708,760" stroke="#753535" stroke-width="37"/>
<path d="M 622,682 L 758,575" stroke="#753535" stroke-width="34"/>
<path d="M 622,682 L 570,775" stroke="#753535" stroke-width="27"/>
<path d="M 622,682 L 658,760" stroke="#753535" stroke-width="27"/>
<path d="M 622,682 L 760,690" stroke="#753535" stroke-width="27"/>
<path d="M 545,645 Q 600,590 665,610 Q 705,665 692,730 Q 640,760 588,740 Q 545,705 545,645 Z" fill="#5f2326" stroke="none" transform="translate(622 682) scale(1.28) translate(-622 -682)"/>
<ellipse cx="622" cy="682" rx="24" ry="24" fill="#2a0c0e" opacity="0.8"/>
<path d="M 700,540 C 660,480 620,420 600,360 L 580,220" stroke="#5d64cf" stroke-width="23"/>
<path d="M 580,220 l 11,-26 M 580,220 l -18,-22 M 620,420 l 8,-69 M 628,351 l -10,-19" stroke="#5d64cf" stroke-width="12"/>
<path d="M 640,460 C 590,400 540,330 480,265" stroke="#5d64cf" stroke-width="15"/>
<path d="M 480,265 l -7,-35 M 480,265 l -35,-10 M 540,330 l -44,-11 M 496,319 l -15,-17" stroke="#5d64cf" stroke-width="8"/>
<path d="M 790,540 C 820,470 830,400 820,310 L 810,215" stroke="#5d64cf" stroke-width="21"/>
<path d="M 810,215 l 19,-40 M 810,215 l -27,-35 M 830,400 l 40,-35 M 870,365 l 5,-21" stroke="#5d64cf" stroke-width="11"/>
<path d="M 830,400 L 880,330 L 900,250" stroke="#5d64cf" stroke-width="13"/>
<path d="M 900,250 l 20,-20 M 900,250 l -8,-27" stroke="#5d64cf" stroke-width="8"/>
<path d="M 700,640 C 640,700 580,760 520,810 L 360,860" stroke="#5d64cf" stroke-width="23"/>
<path d="M 360,860 l -35,-9 M 360,860 l -24,27 M 580,760 l -69,6 M 511,766 l -17,14" stroke="#5d64cf" stroke-width="12"/>
<path d="M 520,810 L 440,900" stroke="#5d64cf" stroke-width="13"/>
<path d="M 440,900 l -42,13 M 440,900 l -8,43" stroke="#5d64cf" stroke-width="8"/>
<path d="M 760,650 C 800,740 840,820 870,870 L 940,920" stroke="#5d64cf" stroke-width="19"/>
<path d="M 940,920 l 11,26 M 940,920 l 28,2 M 840,820 l -12,52 M 828,872 l 8,21" stroke="#5d64cf" stroke-width="10"/>
<path d="M 720,660 C 680,740 620,820 560,920" stroke="#5d64cf" stroke-width="15"/>
<path d="M 560,920 l -32,17 M 560,920 l 0,36 M 620,820 l 3,61 M 623,881 l -11,19" stroke="#5d64cf" stroke-width="8"/>
<path d="M 640,800 L 640,900" stroke="#5d64cf" stroke-width="11"/>
<path d="M 640,900 l -23,38 M 640,900 l 23,38" stroke="#5d64cf" stroke-width="8"/>
<path d="M 800,620 L 880,640" stroke="#5d64cf" stroke-width="15"/>
<path d="M 880,640 l 20,20 M 880,640 l 27,-8" stroke="#5d64cf" stroke-width="8"/>
<path d="M 690,560 C 600,480 520,430 420,380" stroke="#5d64cf" stroke-width="15"/>
<path d="M 420,380 l -19,-31 M 420,380 l -36,3 M 520,430 l -16,-50 M 504,380 l -17,-13" stroke="#5d64cf" stroke-width="8"/>
<path d="M 740,640 C 740,720 720,800 700,860" stroke="#5d64cf" stroke-width="13"/>
<path d="M 700,860 l -34,28 M 700,860 l 10,43 M 720,800 l 27,55 M 747,855 l -3,22" stroke="#5d64cf" stroke-width="8"/>
<path d="M 780,630 C 830,700 880,760 920,800" stroke="#5d64cf" stroke-width="13"/>
<path d="M 920,800 l 7,27 M 920,800 l 27,7 M 880,760 l -0,69 M 880,829 l 12,18" stroke="#5d64cf" stroke-width="8"/>
<path d="M 700,600 C 640,620 580,640 520,640" stroke="#5d64cf" stroke-width="13"/>
<path d="M 520,640 l -31,-19 M 520,640 l -31,19 M 580,640 l -23,38 M 557,678 l -20,9" stroke="#5d64cf" stroke-width="8"/>
<path d="M 745,590 L 670,495" stroke="#5d64cf" stroke-width="41"/>
<path d="M 745,590 L 812,488" stroke="#5d64cf" stroke-width="37"/>
<path d="M 745,590 L 655,685" stroke="#5d64cf" stroke-width="41"/>
<path d="M 745,590 L 790,718" stroke="#5d64cf" stroke-width="34"/>
<path d="M 745,590 L 690,720" stroke="#5d64cf" stroke-width="27"/>
<path d="M 745,590 L 860,635" stroke="#5d64cf" stroke-width="27"/>
<path d="M 745,590 L 622,500" stroke="#5d64cf" stroke-width="27"/>
<path d="M 745,590 L 740,700" stroke="#5d64cf" stroke-width="24"/>
<path d="M 745,590 L 818,682" stroke="#5d64cf" stroke-width="24"/>
<path d="M 745,590 L 655,615" stroke="#5d64cf" stroke-width="24"/>
<path d="M 650,560 Q 720,495 795,515 Q 840,570 825,645 Q 760,690 700,655 Q 645,615 650,560 Z" fill="#5057c6" stroke="none" transform="translate(745 590) scale(1.28) translate(-745 -590)"/>
<ellipse cx="745" cy="590" rx="30" ry="26" fill="#232a96" opacity="0.8"/>
<path d="M 1010,480 C 1000,420 990,360 990,300 C 980,240 970,180 960,90" stroke="#5d64cf" stroke-width="23"/>
<path d="M 960,90 l 19,-40 M 960,90 l -27,-35 M 990,300 l 34,-41 M 1024,259 l 2,-22" stroke="#5d64cf" stroke-width="12"/>
<path d="M 970,180 L 1020,60" stroke="#5d64cf" stroke-width="13"/>
<path d="M 1020,60 l 23,-16 M 1020,60 l -4,-28" stroke="#5d64cf" stroke-width="8"/>
<path d="M 990,300 C 950,260 910,220 870,160" stroke="#5d64cf" stroke-width="15"/>
<path d="M 870,160 l -1,-36 M 870,160 l -33,-15 M 910,220 l -6,-69 M 904,151 l -14,-17" stroke="#5d64cf" stroke-width="8"/>
<path d="M 960,90 L 930,60" stroke="#5d64cf" stroke-width="11"/>
<path d="M 930,60 l -10,-43 M 930,60 l -43,-10" stroke="#5d64cf" stroke-width="8"/>
<path d="M 1080,520 C 1160,500 1240,480 1300,440 L 1400,385" stroke="#5d64cf" stroke-width="21"/>
<path d="M 1400,385 l 28,1 M 1400,385 l 14,-24 M 1240,480 l 48,23 M 1288,503 l 22,-3" stroke="#5d64cf" stroke-width="11"/>
<path d="M 1200,500 C 1280,540 1350,580 1430,610" stroke="#5d64cf" stroke-width="15"/>
<path d="M 1430,610 l 22,28 M 1430,610 l 35,-7 M 1350,580 l 60,-11 M 1410,569 l 20,9" stroke="#5d64cf" stroke-width="8"/>
<path d="M 1060,590 C 1100,680 1140,760 1180,840 L 1250,910" stroke="#5d64cf" stroke-width="19"/>
<path d="M 1250,910 l 10,43 M 1250,910 l 43,10 M 1140,760 l -16,67 M 1124,827 l 8,21" stroke="#5d64cf" stroke-width="10"/>
<path d="M 1140,760 L 1280,790" stroke="#5d64cf" stroke-width="13"/>
<path d="M 1280,790 l 20,19 M 1280,790 l 26,-9" stroke="#5d64cf" stroke-width="8"/>
<path d="M 960,540 C 900,520 860,500 800,490" stroke="#5d64cf" stroke-width="19"/>
<path d="M 800,490 l -27,-24 M 800,490 l -33,14 M 860,500 l -21,-49 M 839,451 l -19,-12" stroke="#5d64cf" stroke-width="10"/>
<path d="M 1000,610 C 970,690 930,770 890,850" stroke="#5d64cf" stroke-width="15"/>
<path d="M 890,850 l -37,23 M 890,850 l 4,44 M 930,770 l 14,59 M 944,829 l -8,21" stroke="#5d64cf" stroke-width="8"/>
<path d="M 1100,560 C 1180,620 1240,700 1280,780" stroke="#5d64cf" stroke-width="13"/>
<path d="M 1280,780 l -2,28 M 1280,780 l 24,15 M 1240,700 l -4,69 M 1236,769 l 11,19" stroke="#5d64cf" stroke-width="8"/>
<path d="M 1050,600 C 1080,650 1120,700 1160,720" stroke="#5d64cf" stroke-width="13"/>
<path d="M 1160,720 l 19,31 M 1160,720 l 36,-3 M 1120,700 l 44,9 M 1164,709 l 15,16" stroke="#5d64cf" stroke-width="8"/>
<path d="M 980,600 C 950,650 920,700 880,720" stroke="#5d64cf" stroke-width="13"/>
<path d="M 880,720 l -44,-4 M 880,720 l -23,37 M 920,700 l -50,17 M 870,717 l -13,18" stroke="#5d64cf" stroke-width="8"/>
<path d="M 1060,500 C 1100,450 1130,400 1150,330" stroke="#5d64cf" stroke-width="13"/>
<path d="M 1150,330 l 21,-19 M 1150,330 l -8,-27 M 1130,400 l -10,-60 M 1120,340 l 9,-20" stroke="#5d64cf" stroke-width="8"/>
<path d="M 1020,535 L 1002,435" stroke="#5d64cf" stroke-width="41"/>
<path d="M 1020,535 L 1140,505" stroke="#5d64cf" stroke-width="37"/>
<path d="M 1020,535 L 1090,658" stroke="#5d64cf" stroke-width="34"/>
<path d="M 1020,535 L 915,525" stroke="#5d64cf" stroke-width="34"/>
<path d="M 1020,535 L 978,670" stroke="#5d64cf" stroke-width="27"/>
<path d="M 1020,535 L 1160,605" stroke="#5d64cf" stroke-width="24"/>
<path d="M 1020,535 L 1072,638" stroke="#5d64cf" stroke-width="24"/>
<path d="M 1020,535 L 958,638" stroke="#5d64cf" stroke-width="24"/>
<path d="M 1020,535 L 1090,462" stroke="#5d64cf" stroke-width="24"/>
<path d="M 935,510 Q 990,445 1065,465 Q 1115,520 1105,595 Q 1040,645 978,615 Q 925,570 935,510 Z" fill="#5057c6" stroke="none" transform="translate(1020 535) scale(1.28) translate(-1020 -535)"/>
<ellipse cx="1020" cy="535" rx="28" ry="30" fill="#232a96" opacity="0.8"/>
<path d="M 1070,880 C 1080,950 1110,1020 1140,1080 C 1160,1150 1160,1220 1150,1290" stroke="#753535" stroke-width="23"/>
<path d="M 1150,1290 l -23,28 M 1150,1290 l 14,33 M 1140,1080 l -16,67 M 1124,1147 l 8,21" stroke="#753535" stroke-width="12"/>
<path d="M 1140,1080 C 1200,1080 1260,1070 1320,1075" stroke="#753535" stroke-width="15"/>
<path d="M 1320,1075 l 35,26 M 1320,1075 l 39,-20 M 1260,1070 l 29,-34 M 1289,1036 l 21,-6" stroke="#753535" stroke-width="8"/>
<path d="M 1160,1180 L 1250,1230" stroke="#753535" stroke-width="11"/>
<path d="M 1250,1230 l 14,24 M 1250,1230 l 28,-1" stroke="#753535" stroke-width="8"/>
<path d="M 1160,1180 L 1270,1160" stroke="#753535" stroke-width="11"/>
<path d="M 1270,1160 l 34,13 M 1270,1160 l 27,-24" stroke="#753535" stroke-width="8"/>
<path d="M 1130,830 C 1220,820 1320,815 1460,825" stroke="#753535" stroke-width="21"/>
<path d="M 1460,825 l 36,26 M 1460,825 l 39,-20 M 1320,815 l 55,42 M 1375,857 l 22,1" stroke="#753535" stroke-width="11"/>
<path d="M 1300,815 L 1400,880" stroke="#753535" stroke-width="13"/>
<path d="M 1400,880 l 12,25 M 1400,880 l 28,1" stroke="#753535" stroke-width="8"/>
<path d="M 1110,770 C 1180,690 1260,620 1330,570 L 1430,510" stroke="#753535" stroke-width="21"/>
<path d="M 1430,510 l 36,0 M 1430,510 l 17,-32 M 1260,620 l 53,-1 M 1313,619 l 18,-13" stroke="#753535" stroke-width="11"/>
<path d="M 1330,570 L 1370,470" stroke="#753535" stroke-width="13"/>
<path d="M 1370,470 l 35,-26 M 1370,470 l -7,-43" stroke="#753535" stroke-width="8"/>
<path d="M 1010,840 C 930,860 840,870 740,880" stroke="#753535" stroke-width="21"/>
<path d="M 740,880 l -25,-12 M 740,880 l -22,17 M 840,870 l -57,-38 M 783,832 l -22,0" stroke="#753535" stroke-width="11"/>
<path d="M 1040,770 C 1000,700 960,640 930,560 L 920,450" stroke="#753535" stroke-width="19"/>
<path d="M 920,450 l 16,-32 M 920,450 l -22,-29 M 960,640 l -43,-13 M 917,627 l -14,-17" stroke="#753535" stroke-width="10"/>
<path d="M 1000,880 C 900,920 800,990 740,1060 L 710,1110" stroke="#753535" stroke-width="19"/>
<path d="M 710,1110 l -39,20 M 710,1110 l 0,44 M 800,990 l -53,-5 M 747,985 l -19,11" stroke="#753535" stroke-width="10"/>
<path d="M 1120,870 L 1200,950" stroke="#753535" stroke-width="13"/>
<path d="M 1200,950 l 7,27 M 1200,950 l 27,7" stroke="#753535" stroke-width="8"/>
<path d="M 1100,880 C 1160,930 1220,980 1260,1040" stroke="#753535" stroke-width="15"/>
<path d="M 1260,1040 l 1,36 M 1260,1040 l 33,15 M 1220,980 l 12,68 M 1232,1048 l 15,16" stroke="#753535" stroke-width="8"/>
<path d="M 1040,880 C 1000,950 980,1020 960,1080" stroke="#753535" stroke-width="15"/>
<path d="M 960,1080 l -34,28 M 960,1080 l 10,43 M 980,1020 l 18,41 M 998,1061 l -4,22" stroke="#753535" stroke-width="8"/>
<path d="M 1070,825 L 1078,932" stroke="#753535" stroke-width="41"/>
<path d="M 1070,825 L 1198,822" stroke="#753535" stroke-width="37"/>
<path d="M 1070,825 L 1162,710" stroke="#753535" stroke-width="37"/>
<path d="M 1070,825 L 950,855" stroke="#753535" stroke-width="37"/>
<path d="M 1070,825 L 1010,718" stroke="#753535" stroke-width="34"/>
<path d="M 1070,825 L 925,910" stroke="#753535" stroke-width="34"/>
<path d="M 1070,825 L 1180,930" stroke="#753535" stroke-width="24"/>
<path d="M 1070,825 L 1145,918" stroke="#753535" stroke-width="27"/>
<path d="M 1070,825 L 1010,932" stroke="#753535" stroke-width="27"/>
<path d="M 985,800 Q 1030,745 1105,750 Q 1155,800 1145,872 Q 1090,915 1028,895 Q 975,860 985,800 Z" fill="#5f2326" stroke="none" transform="translate(1070 825) scale(1.28) translate(-1070 -825)"/>
<ellipse cx="1070" cy="825" rx="26" ry="28" fill="#2a0c0e" opacity="0.8"/>
</g>
<g transform="translate(1873.0 297.5)" stroke-linejoin="round">
<path d="M 16,72 L 104,72 L 112,82 Q 120,90 120.5,100 L 120.5,188 Q 120,196 112,198 Q 80,202 45,206 Q 38,206 30,202 L 6,192 Q 0.5,189 0.5,182 L 0.5,100 Q 1,90 8,83 Z" fill="#b7bae5" stroke="#7c81d6" stroke-width="2"/>
<path d="M 16,74 L 42,74 L 40,96 L 40,204 Q 36,204 30,202 L 6,192 Q 2,189 2,182 L 2,100 Q 3,91 9,84 Z" fill="#dcdef3"/>
<path d="M 18,74 L 102,74 L 114,90 L 44,96 L 40,96 Z" fill="#dcdef3" opacity="0.55"/>
<rect x="37.5" y="98" width="5" height="104" fill="#f2f3fc"/>
<path d="M 43,184 Q 80,178 118,190 L 118,192 Q 112,198 80,202 L 44,205 Z" fill="#9ea2dc"/>
<path d="M 12,104 L 24,105" stroke="#7c81d6" stroke-width="1.6" opacity="0.7"/>
<path d="M 12,129 L 24,130" stroke="#7c81d6" stroke-width="1.6" opacity="0.7"/>
<path d="M 12,156 L 24,157" stroke="#7c81d6" stroke-width="1.6" opacity="0.7"/>
<path d="M 12,183 L 24,184" stroke="#7c81d6" stroke-width="1.6" opacity="0.7"/>
<defs><linearGradient id="ng18252" x1="0" y1="0" x2="1" y2="0"><stop offset="0" stop-color="#cdd0f0"/><stop offset="0.18" stop-color="#f2f3fc"/><stop offset="0.3" stop-color="#cdd0f0"/><stop offset="0.5" stop-color="#cdd0f0"/><stop offset="0.52" stop-color="#b9bde8"/><stop offset="1" stop-color="#b9bde8"/></linearGradient></defs>
<path d="M 17,12 L 103,12 L 103,60 L 17,60 Z" fill="url(#ng18252)" stroke="#7c81d6" stroke-width="1.8"/>
<ellipse cx="60" cy="52" rx="45" ry="4.5" fill="url(#ng18252)" stroke="#7c81d6" stroke-width="1.4"/>
<ellipse cx="60" cy="43" rx="45" ry="4.5" fill="url(#ng18252)" stroke="#7c81d6" stroke-width="1.4"/>
<ellipse cx="60" cy="33" rx="45" ry="4.5" fill="url(#ng18252)" stroke="#7c81d6" stroke-width="1.4"/>
<rect x="17" y="11" width="86" height="14" fill="url(#ng18252)"/>
<path d="M 17,11 L 17,25 M 103,11 L 103,25" stroke="#7c81d6" stroke-width="1.8"/>
<ellipse cx="60" cy="11" rx="43.5" ry="10" fill="#c6c9ee" stroke="#7c81d6" stroke-width="1.8"/>
<ellipse cx="60" cy="13" rx="33" ry="5.5" fill="#a8ace2"/>
<ellipse cx="60.5" cy="66" rx="49.5" ry="8" fill="#cdd0f0" stroke="#7c81d6" stroke-width="1.8"/>
<ellipse cx="60.5" cy="68" rx="42" ry="4" fill="#b9bde8"/>
</g>
<g transform="translate(1873.0 577.0)" stroke-linejoin="round">
<path d="M 16,72 L 104,72 L 112,82 Q 120,90 120.5,100 L 120.5,188 Q 120,196 112,198 Q 80,202 45,206 Q 38,206 30,202 L 6,192 Q 0.5,189 0.5,182 L 0.5,100 Q 1,90 8,83 Z" fill="#dd9fc7" stroke="#c8679f" stroke-width="2"/>
<path d="M 16,74 L 42,74 L 40,96 L 40,204 Q 36,204 30,202 L 6,192 Q 2,189 2,182 L 2,100 Q 3,91 9,84 Z" fill="#efcde3"/>
<path d="M 18,74 L 102,74 L 114,90 L 44,96 L 40,96 Z" fill="#efcde3" opacity="0.55"/>
<rect x="37.5" y="98" width="5" height="104" fill="#faeef5"/>
<path d="M 43,184 Q 80,178 118,190 L 118,192 Q 112,198 80,202 L 44,205 Z" fill="#cc7fb4"/>
<path d="M 12,104 L 24,105" stroke="#c8679f" stroke-width="1.6" opacity="0.7"/>
<path d="M 12,129 L 24,130" stroke="#c8679f" stroke-width="1.6" opacity="0.7"/>
<path d="M 12,156 L 24,157" stroke="#c8679f" stroke-width="1.6" opacity="0.7"/>
<path d="M 12,183 L 24,184" stroke="#c8679f" stroke-width="1.6" opacity="0.7"/>
<defs><linearGradient id="ng74450" x1="0" y1="0" x2="1" y2="0"><stop offset="0" stop-color="#ebc0dc"/><stop offset="0.18" stop-color="#faeef5"/><stop offset="0.3" stop-color="#ebc0dc"/><stop offset="0.5" stop-color="#ebc0dc"/><stop offset="0.52" stop-color="#e0a8cc"/><stop offset="1" stop-color="#e0a8cc"/></linearGradient></defs>
<path d="M 17,12 L 103,12 L 103,60 L 17,60 Z" fill="url(#ng74450)" stroke="#c8679f" stroke-width="1.8"/>
<ellipse cx="60" cy="52" rx="45" ry="4.5" fill="url(#ng74450)" stroke="#c8679f" stroke-width="1.4"/>
<ellipse cx="60" cy="43" rx="45" ry="4.5" fill="url(#ng74450)" stroke="#c8679f" stroke-width="1.4"/>
<ellipse cx="60" cy="33" rx="45" ry="4.5" fill="url(#ng74450)" stroke="#c8679f" stroke-width="1.4"/>
<rect x="17" y="11" width="86" height="14" fill="url(#ng74450)"/>
<path d="M 17,11 L 17,25 M 103,11 L 103,25" stroke="#c8679f" stroke-width="1.8"/>
<ellipse cx="60" cy="11" rx="43.5" ry="10" fill="#e8b8d7" stroke="#c8679f" stroke-width="1.8"/>
<ellipse cx="60" cy="13" rx="33" ry="5.5" fill="#d48ebf"/>
<ellipse cx="60.5" cy="66" rx="49.5" ry="8" fill="#ebc0dc" stroke="#c8679f" stroke-width="1.8"/>
<ellipse cx="60.5" cy="68" rx="42" ry="4" fill="#e0a8cc"/>
</g>
<g transform="translate(713.0 888.0)" stroke-linejoin="round">
<path d="M 16,72 L 104,72 L 112,82 Q 120,90 120.5,100 L 120.5,188 Q 120,196 112,198 Q 80,202 45,206 Q 38,206 30,202 L 6,192 Q 0.5,189 0.5,182 L 0.5,100 Q 1,90 8,83 Z" fill="#b7bae5" stroke="#7c81d6" stroke-width="2"/>
<path d="M 16,74 L 42,74 L 40,96 L 40,204 Q 36,204 30,202 L 6,192 Q 2,189 2,182 L 2,100 Q 3,91 9,84 Z" fill="#dcdef3"/>
<path d="M 18,74 L 102,74 L 114,90 L 44,96 L 40,96 Z" fill="#dcdef3" opacity="0.55"/>
<rect x="37.5" y="98" width="5" height="104" fill="#f2f3fc"/>
<path d="M 43,184 Q 80,178 118,190 L 118,192 Q 112,198 80,202 L 44,205 Z" fill="#9ea2dc"/>
<path d="M 12,104 L 24,105" stroke="#7c81d6" stroke-width="1.6" opacity="0.7"/>
<path d="M 12,129 L 24,130" stroke="#7c81d6" stroke-width="1.6" opacity="0.7"/>
<path d="M 12,156 L 24,157" stroke="#7c81d6" stroke-width="1.6" opacity="0.7"/>
<path d="M 12,183 L 24,184" stroke="#7c81d6" stroke-width="1.6" opacity="0.7"/>
<defs><linearGradient id="ng82818" x1="0" y1="0" x2="1" y2="0"><stop offset="0" stop-color="#cdd0f0"/><stop offset="0.18" stop-color="#f2f3fc"/><stop offset="0.3" stop-color="#cdd0f0"/><stop offset="0.5" stop-color="#cdd0f0"/><stop offset="0.52" stop-color="#b9bde8"/><stop offset="1" stop-color="#b9bde8"/></linearGradient></defs>
<path d="M 17,12 L 103,12 L 103,60 L 17,60 Z" fill="url(#ng82818)" stroke="#7c81d6" stroke-width="1.8"/>
<ellipse cx="60" cy="52" rx="45" ry="4.5" fill="url(#ng82818)" stroke="#7c81d6" stroke-width="1.4"/>
<ellipse cx="60" cy="43" rx="45" ry="4.5" fill="url(#ng82818)" stroke="#7c81d6" stroke-width="1.4"/>
<ellipse cx="60" cy="33" rx="45" ry="4.5" fill="url(#ng82818)" stroke="#7c81d6" stroke-width="1.4"/>
<rect x="17" y="11" width="86" height="14" fill="url(#ng82818)"/>
<path d="M 17,11 L 17,25 M 103,11 L 103,25" stroke="#7c81d6" stroke-width="1.8"/>
<ellipse cx="60" cy="11" rx="43.5" ry="10" fill="#c6c9ee" stroke="#7c81d6" stroke-width="1.8"/>
<ellipse cx="60" cy="13" rx="33" ry="5.5" fill="#a8ace2"/>
<ellipse cx="60.5" cy="66" rx="49.5" ry="8" fill="#cdd0f0" stroke="#7c81d6" stroke-width="1.8"/>
<ellipse cx="60.5" cy="68" rx="42" ry="4" fill="#b9bde8"/>
</g>
<g transform="translate(713.0 1257.0)" stroke-linejoin="round">
<path d="M 16,72 L 104,72 L 112,82 Q 120,90 120.5,100 L 120.5,188 Q 120,196 112,198 Q 80,202 45,206 Q 38,206 30,202 L 6,192 Q 0.5,189 0.5,182 L 0.5,100 Q 1,90 8,83 Z" fill="#dd9fc7" stroke="#c8679f" stroke-width="2"/>
<path d="M 16,74 L 42,74 L 40,96 L 40,204 Q 36,204 30,202 L 6,192 Q 2,189 2,182 L 2,100 Q 3,91 9,84 Z" fill="#efcde3"/>
<path d="M 18,74 L 102,74 L 114,90 L 44,96 L 40,96 Z" fill="#efcde3" opacity="0.55"/>
<rect x="37.5" y="98" width="5" height="104" fill="#faeef5"/>
<path d="M 43,184 Q 80,178 118,190 L 118,192 Q 112,198 80,202 L 44,205 Z" fill="#cc7fb4"/>
<path d="M 12,104 L 24,105" stroke="#c8679f" stroke-width="1.6" opacity="0.7"/>
<path d="M 12,129 L 24,130" stroke="#c8679f" stroke-width="1.6" opacity="0.7"/>
<path d="M 12,156 L 24,157" stroke="#c8679f" stroke-width="1.6" opacity="0.7"/>
<path d="M 12,183 L 24,184" stroke="#c8679f" stroke-width="1.6" opacity="0.7"/>
<defs><linearGradient id="ng47975" x1="0" y1="0" x2="1" y2="0"><stop offset="0" stop-color="#ebc0dc"/><stop offset="0.18" stop-color="#faeef5"/><stop offset="0.3" stop-color="#ebc0dc"/><stop offset="0.5" stop-color="#ebc0dc"/><stop offset="0.52" stop-color="#e0a8cc"/><stop offset="1" stop-color="#e0a8cc"/></linearGradient></defs>
<path d="M 17,12 L 103,12 L 103,60 L 17,60 Z" fill="url(#ng47975)" stroke="#c8679f" stroke-width="1.8"/>
<ellipse cx="60" cy="52" rx="45" ry="4.5" fill="url(#ng47975)" stroke="#c8679f" stroke-width="1.4"/>
<ellipse cx="60" cy="43" rx="45" ry="4.5" fill="url(#ng47975)" stroke="#c8679f" stroke-width="1.4"/>
<ellipse cx="60" cy="33" rx="45" ry="4.5" fill="url(#ng47975)" stroke="#c8679f" stroke-width="1.4"/>
<rect x="17" y="11" width="86" height="14" fill="url(#ng47975)"/>
<path d="M 17,11 L 17,25 M 103,11 L 103,25" stroke="#c8679f" stroke-width="1.8"/>
<ellipse cx="60" cy="11" rx="43.5" ry="10" fill="#e8b8d7" stroke="#c8679f" stroke-width="1.8"/>
<ellipse cx="60" cy="13" rx="33" ry="5.5" fill="#d48ebf"/>
<ellipse cx="60.5" cy="66" rx="49.5" ry="8" fill="#ebc0dc" stroke="#c8679f" stroke-width="1.8"/>
<ellipse cx="60.5" cy="68" rx="42" ry="4" fill="#e0a8cc"/>
</g>
<g transform="translate(80.00 960.00) scale(0.28289)" fill="none" stroke-linecap="round" stroke-linejoin="round" opacity="1.00">
<path d="M 520,870 C 510,800 500,740 515,680 C 525,620 520,580 495,545" stroke="#d39bd4" stroke-width="14.5"/>
<path d="M 495,545 l -1,-20 M 495,545 l -18,-8 M 515,680 l -14,-28 M 501,652 l 2,-15" stroke="#d39bd4" stroke-width="6.0"/>
<path d="M 500,760 C 470,730 440,710 410,700" stroke="#d39bd4" stroke-width="11.6"/>
<path d="M 410,700 l -16,-19 M 410,700 l -25,6 M 440,710 l -10,-36 M 430,674 l -12,-10" stroke="#d39bd4" stroke-width="6.0"/>
<path d="M 470,720 L 470,690" stroke="#d39bd4" stroke-width="8.7"/>
<path d="M 500,870 L 410,870" stroke="#d39bd4" stroke-width="11.6"/>
<path d="M 410,870 l -17,-10 M 410,870 l -17,10" stroke="#d39bd4" stroke-width="6.0"/>
<path d="M 510,900 C 495,960 480,1020 460,1040 L 410,1080" stroke="#d39bd4" stroke-width="13.0"/>
<path d="M 410,1080 l -25,3 M 410,1080 l -9,24 M 480,1020 l 14,28 M 494,1048 l -2,15" stroke="#d39bd4" stroke-width="6.0"/>
<path d="M 480,985 L 435,970" stroke="#d39bd4" stroke-width="8.7"/>
<path d="M 555,875 C 600,880 640,880 680,860 C 720,840 740,810 750,780" stroke="#c476c6" stroke-width="15.9"/>
<path d="M 750,780 l 15,-13 M 750,780 l -4,-19 M 680,860 l 17,-39 M 697,821 l 13,-8" stroke="#c476c6" stroke-width="6.0"/>
<path d="M 750,780 C 740,750 720,730 690,720" stroke="#d39bd4" stroke-width="11.6"/>
<path d="M 690,720 l -16,-19 M 690,720 l -25,6 M 720,730 l -4,-48 M 716,682 l -10,-12" stroke="#d39bd4" stroke-width="6.0"/>
<path d="M 640,880 C 665,940 675,1000 678,1050 L 690,1200" stroke="#d39bd4" stroke-width="13.0"/>
<path d="M 690,1200 l -14,27 M 690,1200 l 18,25 M 675,1000 l 24,20 M 699,1020 l 4,15" stroke="#d39bd4" stroke-width="6.0"/>
<path d="M 678,1050 L 720,1050" stroke="#d39bd4" stroke-width="8.7"/>
<path d="M 680,1150 L 710,1160" stroke="#d39bd4" stroke-width="8.7"/>
<path d="M 815,790 C 790,860 740,910 680,940 C 630,955 580,960 540,990" stroke="#c476c6" stroke-width="15.9"/>
<path d="M 540,990 l -31,3 M 540,990 l -11,29 M 680,940 l -47,-11 M 633,929 l -14,5" stroke="#c476c6" stroke-width="6.0"/>
<path d="M 640,950 L 660,1050" stroke="#d39bd4" stroke-width="10.2"/>
<path d="M 790,730 C 770,680 750,620 740,595 L 690,545" stroke="#c476c6" stroke-width="14.5"/>
<path d="M 690,545 l -6,-25 M 690,545 l -25,-6 M 750,620 l 14,-34 M 764,586 l -3,-15" stroke="#c476c6" stroke-width="6.0"/>
<path d="M 740,600 L 758,565" stroke="#c476c6" stroke-width="10.2"/>
<path d="M 780,720 C 720,700 670,680 620,640" stroke="#c476c6" stroke-width="14.5"/>
<path d="M 620,640 l -7,-18 M 620,640 l -19,-2 M 670,680 l -23,-43 M 647,637 l -14,-7" stroke="#c476c6" stroke-width="6.0"/>
<path d="M 650,680 L 630,730" stroke="#c476c6" stroke-width="10.2"/>
<path d="M 860,720 C 900,712 950,730 1000,765" stroke="#c476c6" stroke-width="14.5"/>
<path d="M 1000,765 l 12,28 M 1000,765 l 31,2 M 950,730 l 19,32 M 969,762 l 14,7" stroke="#c476c6" stroke-width="6.0"/>
<path d="M 840,805 C 880,812 940,815 990,815" stroke="#d39bd4" stroke-width="11.6"/>
<path d="M 990,815 l 17,10 M 990,815 l 17,-10 M 940,815 l 34,-26 M 974,789 l 15,-1" stroke="#d39bd4" stroke-width="6.0"/>
<path d="M 745,780 C 760,860 800,930 860,975 L 910,995" stroke="#c476c6" stroke-width="15.9"/>
<path d="M 910,995 l 15,20 M 910,995 l 25,-4 M 800,930 l -9,48 M 791,978 l 6,14" stroke="#c476c6" stroke-width="6.0"/>
<path d="M 995,760 C 990,710 975,660 955,620 L 950,570" stroke="#d39bd4" stroke-width="13.0"/>
<path d="M 950,570 l 13,-28 M 950,570 l -19,-25 M 975,660 l -26,-17 M 949,643 l -6,-14" stroke="#d39bd4" stroke-width="6.0"/>
<path d="M 985,690 C 1005,650 1030,620 1045,560" stroke="#d39bd4" stroke-width="11.6"/>
<path d="M 1045,560 l 14,-14 M 1045,560 l -6,-19 M 1030,620 l 37,-6 M 1067,614 l 11,-11" stroke="#d39bd4" stroke-width="6.0"/>
<path d="M 1030,630 L 1085,615" stroke="#d39bd4" stroke-width="8.7"/>
<path d="M 955,620 L 900,630" stroke="#d39bd4" stroke-width="8.7"/>
<path d="M 1030,770 L 1120,765" stroke="#c476c6" stroke-width="11.6"/>
<path d="M 1120,765 l 17,9 M 1120,765 l 16,-11" stroke="#c476c6" stroke-width="6.0"/>
<path d="M 1000,800 C 995,850 985,900 975,960" stroke="#c476c6" stroke-width="13.0"/>
<path d="M 975,960 l -17,19 M 975,960 l 9,23 M 985,900 l -29,23 M 956,923 l -5,15" stroke="#c476c6" stroke-width="6.0"/>
<path d="M 1050,790 C 1080,830 1100,870 1130,920 L 1170,970" stroke="#d39bd4" stroke-width="11.6"/>
<path d="M 1170,970 l 4,31 M 1170,970 l 29,10 M 1100,870 l 39,17 M 1139,887 l 8,13" stroke="#d39bd4" stroke-width="6.0"/>
<path d="M 1100,870 L 1160,900" stroke="#d39bd4" stroke-width="8.7"/>
<path d="M 985,950 C 1020,920 1070,890 1120,850" stroke="#c476c6" stroke-width="11.6"/>
<path d="M 1120,850 l 25,-3 M 1120,850 l 9,-24 M 1070,890 l 10,-30 M 1080,860 l 12,-9" stroke="#c476c6" stroke-width="6.0"/>
<path d="M 965,1030 C 975,1080 970,1130 955,1180 L 945,1260" stroke="#c476c6" stroke-width="14.5"/>
<path d="M 945,1260 l -19,24 M 945,1260 l 13,28 M 970,1130 l -27,26 M 943,1156 l -3,15" stroke="#c476c6" stroke-width="6.0"/>
<path d="M 955,1190 L 990,1195" stroke="#c476c6" stroke-width="8.7"/>
<ellipse cx="520" cy="870" rx="30" ry="26" fill="#d296d3"/>
<ellipse cx="820" cy="755" rx="40" ry="36" fill="#a34ea6"/>
<ellipse cx="1000" cy="775" rx="34" ry="30" fill="#d7a2d7"/>
<ellipse cx="935" cy="990" rx="40" ry="36" fill="#a34ea6"/>
</g>
<g transform="translate(917.0 964.6)">
<path d="M 0.8,52.5 L 0.8,74.5 A 86.7,52 0 0 0 174.2,74.5 L 174.2,52.5 Z" fill="#e2f2f6" stroke="#c2c6c7" stroke-width="2.2"/>
<ellipse cx="87.5" cy="52.5" rx="86.7" ry="52" fill="#eef6f8" stroke="#bdbfc0" stroke-width="2.4"/>
<ellipse cx="87.5" cy="60" rx="85" ry="39" fill="#d7edf2" stroke="#a9c7cf" stroke-width="1.8"/>
<g transform="translate(-27.20 -71.92) scale(0.1480 0.1480)" fill="none" stroke-linecap="round" stroke-linejoin="round" opacity="1.00">
<path d="M 520,870 C 510,800 500,740 515,680 C 525,620 520,580 495,545" stroke="#c98ac9" stroke-width="20.0"/>
<path d="M 500,760 C 470,730 440,710 410,700" stroke="#c98ac9" stroke-width="16.0"/>
<path d="M 470,720 L 470,690" stroke="#c98ac9" stroke-width="12.0"/>
<path d="M 500,870 L 410,870" stroke="#c98ac9" stroke-width="16.0"/>
<path d="M 510,900 C 495,960 480,1020 460,1040 L 410,1080" stroke="#c98ac9" stroke-width="18.0"/>
<path d="M 480,985 L 435,970" stroke="#c98ac9" stroke-width="12.0"/>
<path d="M 555,875 C 600,880 640,880 680,860 C 720,840 740,810 750,780" stroke="#c98ac9" stroke-width="22.0"/>
<path d="M 750,780 C 740,750 720,730 690,720" stroke="#c98ac9" stroke-width="16.0"/>
<path d="M 640,880 C 665,940 675,1000 678,1050 L 690,1200" stroke="#c98ac9" stroke-width="18.0"/>
<path d="M 678,1050 L 720,1050" stroke="#c98ac9" stroke-width="12.0"/>
<path d="M 680,1150 L 710,1160" stroke="#c98ac9" stroke-width="12.0"/>
<path d="M 815,790 C 790,860 740,910 680,940 C 630,955 580,960 540,990" stroke="#c98ac9" stroke-width="22.0"/>
<path d="M 640,950 L 660,1050" stroke="#c98ac9" stroke-width="14.0"/>
<path d="M 790,730 C 770,680 750,620 740,595 L 690,545" stroke="#c98ac9" stroke-width="20.0"/>
<path d="M 740,600 L 758,565" stroke="#c98ac9" stroke-width="14.0"/>
<path d="M 780,720 C 720,700 670,680 620,640" stroke="#c98ac9" stroke-width="20.0"/>
<path d="M 650,680 L 630,730" stroke="#c98ac9" stroke-width="14.0"/>
<path d="M 860,720 C 900,712 950,730 1000,765" stroke="#c98ac9" stroke-width="20.0"/>
<path d="M 840,805 C 880,812 940,815 990,815" stroke="#c98ac9" stroke-width="16.0"/>
<path d="M 745,780 C 760,860 800,930 860,975 L 910,995" stroke="#c98ac9" stroke-width="22.0"/>
<path d="M 995,760 C 990,710 975,660 955,620 L 950,570" stroke="#c98ac9" stroke-width="18.0"/>
<path d="M 985,690 C 1005,650 1030,620 1045,560" stroke="#c98ac9" stroke-width="16.0"/>
<path d="M 1030,630 L 1085,615" stroke="#c98ac9" stroke-width="12.0"/>
<path d="M 955,620 L 900,630" stroke="#c98ac9" stroke-width="12.0"/>
<path d="M 1030,770 L 1120,765" stroke="#c98ac9" stroke-width="16.0"/>
<path d="M 1000,800 C 995,850 985,900 975,960" stroke="#c98ac9" stroke-width="18.0"/>
<path d="M 1050,790 C 1080,830 1100,870 1130,920 L 1170,970" stroke="#c98ac9" stroke-width="16.0"/>
<path d="M 1100,870 L 1160,900" stroke="#c98ac9" stroke-width="12.0"/>
<path d="M 985,950 C 1020,920 1070,890 1120,850" stroke="#c98ac9" stroke-width="16.0"/>
<path d="M 965,1030 C 975,1080 970,1130 955,1180 L 945,1260" stroke="#c98ac9" stroke-width="20.0"/>
<path d="M 955,1190 L 990,1195" stroke="#c98ac9" stroke-width="12.0"/>
<path d="M 487,846 L 553,846 L 520,903 Z" fill="#a050a2" stroke="#a050a2" stroke-width="10"/>
<path d="M 776,722 L 864,722 L 820,801 Z" fill="#a050a2" stroke="#a050a2" stroke-width="10"/>
<path d="M 962,748 L 1037,748 L 1000,814 Z" fill="#a050a2" stroke="#a050a2" stroke-width="10"/>
<path d="M 891,957 L 979,957 L 935,1036 Z" fill="#a050a2" stroke="#a050a2" stroke-width="10"/>
</g>
<g transform="translate(198.00 -44.80) scale(-0.1200 0.1200)" fill="none" stroke-linecap="round" stroke-linejoin="round" opacity="0.85">
<path d="M 520,870 C 510,800 500,740 515,680 C 525,620 520,580 495,545" stroke="#d29fd2" stroke-width="23.0"/>
<path d="M 500,760 C 470,730 440,710 410,700" stroke="#d29fd2" stroke-width="18.4"/>
<path d="M 470,720 L 470,690" stroke="#d29fd2" stroke-width="13.8"/>
<path d="M 500,870 L 410,870" stroke="#d29fd2" stroke-width="18.4"/>
<path d="M 510,900 C 495,960 480,1020 460,1040 L 410,1080" stroke="#d29fd2" stroke-width="20.7"/>
<path d="M 480,985 L 435,970" stroke="#d29fd2" stroke-width="13.8"/>
<path d="M 555,875 C 600,880 640,880 680,860 C 720,840 740,810 750,780" stroke="#d29fd2" stroke-width="25.3"/>
<path d="M 750,780 C 740,750 720,730 690,720" stroke="#d29fd2" stroke-width="18.4"/>
<path d="M 640,880 C 665,940 675,1000 678,1050 L 690,1200" stroke="#d29fd2" stroke-width="20.7"/>
<path d="M 678,1050 L 720,1050" stroke="#d29fd2" stroke-width="13.8"/>
<path d="M 680,1150 L 710,1160" stroke="#d29fd2" stroke-width="13.8"/>
<path d="M 815,790 C 790,860 740,910 680,940 C 630,955 580,960 540,990" stroke="#d29fd2" stroke-width="25.3"/>
<path d="M 640,950 L 660,1050" stroke="#d29fd2" stroke-width="16.1"/>
<path d="M 790,730 C 770,680 750,620 740,595 L 690,545" stroke="#d29fd2" stroke-width="23.0"/>
<path d="M 740,600 L 758,565" stroke="#d29fd2" stroke-width="16.1"/>
<path d="M 780,720 C 720,700 670,680 620,640" stroke="#d29fd2" stroke-width="23.0"/>
<path d="M 650,680 L 630,730" stroke="#d29fd2" stroke-width="16.1"/>
<path d="M 860,720 C 900,712 950,730 1000,765" stroke="#d29fd2" stroke-width="23.0"/>
<path d="M 840,805 C 880,812 940,815 990,815" stroke="#d29fd2" stroke-width="18.4"/>
<path d="M 745,780 C 760,860 800,930 860,975 L 910,995" stroke="#d29fd2" stroke-width="25.3"/>
<path d="M 995,760 C 990,710 975,660 955,620 L 950,570" stroke="#d29fd2" stroke-width="20.7"/>
<path d="M 985,690 C 1005,650 1030,620 1045,560" stroke="#d29fd2" stroke-width="18.4"/>
<path d="M 1030,630 L 1085,615" stroke="#d29fd2" stroke-width="13.8"/>
<path d="M 955,620 L 900,630" stroke="#d29fd2" stroke-width="13.8"/>
<path d="M 1030,770 L 1120,765" stroke="#d29fd2" stroke-width="18.4"/>
<path d="M 1000,800 C 995,850 985,900 975,960" stroke="#d29fd2" stroke-width="20.7"/>
<path d="M 1050,790 C 1080,830 1100,870 1130,920 L 1170,970" stroke="#d29fd2" stroke-width="18.4"/>
<path d="M 1100,870 L 1160,900" stroke="#d29fd2" stroke-width="13.8"/>
<path d="M 985,950 C 1020,920 1070,890 1120,850" stroke="#d29fd2" stroke-width="18.4"/>
<path d="M 965,1030 C 975,1080 970,1130 955,1180 L 945,1260" stroke="#d29fd2" stroke-width="23.0"/>
<path d="M 955,1190 L 990,1195" stroke="#d29fd2" stroke-width="13.8"/>
<path d="M 487,846 L 553,846 L 520,903 Z" fill="#a85aa8" stroke="#a85aa8" stroke-width="10"/>
<path d="M 776,722 L 864,722 L 820,801 Z" fill="#a85aa8" stroke="#a85aa8" stroke-width="10"/>
<path d="M 962,748 L 1037,748 L 1000,814 Z" fill="#a85aa8" stroke="#a85aa8" stroke-width="10"/>
<path d="M 891,957 L 979,957 L 935,1036 Z" fill="#a85aa8" stroke="#a85aa8" stroke-width="10"/>
</g>
</g>
<g transform="translate(916.5 1199.0)">
<path d="M 0.8,52.5 L 0.8,74.5 A 86.7,52 0 0 0 174.2,74.5 L 174.2,52.5 Z" fill="#e2f2f6" stroke="#c2c6c7" stroke-width="2.2"/>
<ellipse cx="87.5" cy="52.5" rx="86.7" ry="52" fill="#eef6f8" stroke="#bdbfc0" stroke-width="2.4"/>
<ellipse cx="87.5" cy="60" rx="85" ry="39" fill="#d7edf2" stroke="#a9c7cf" stroke-width="1.8"/>
<g transform="translate(-27.20 -71.92) scale(0.1480 0.1480)" fill="none" stroke-linecap="round" stroke-linejoin="round" opacity="1.00">
<path d="M 520,870 C 510,800 500,740 515,680 C 525,620 520,580 495,545" stroke="#c98ac9" stroke-width="20.0"/>
<path d="M 500,760 C 470,730 440,710 410,700" stroke="#c98ac9" stroke-width="16.0"/>
<path d="M 470,720 L 470,690" stroke="#c98ac9" stroke-width="12.0"/>
<path d="M 500,870 L 410,870" stroke="#c98ac9" stroke-width="16.0"/>
<path d="M 510,900 C 495,960 480,1020 460,1040 L 410,1080" stroke="#c98ac9" stroke-width="18.0"/>
<path d="M 480,985 L 435,970" stroke="#c98ac9" stroke-width="12.0"/>
<path d="M 555,875 C 600,880 640,880 680,860 C 720,840 740,810 750,780" stroke="#c98ac9" stroke-width="22.0"/>
<path d="M 750,780 C 740,750 720,730 690,720" stroke="#c98ac9" stroke-width="16.0"/>
<path d="M 640,880 C 665,940 675,1000 678,1050 L 690,1200" stroke="#c98ac9" stroke-width="18.0"/>
<path d="M 678,1050 L 720,1050" stroke="#c98ac9" stroke-width="12.0"/>
<path d="M 680,1150 L 710,1160" stroke="#c98ac9" stroke-width="12.0"/>
<path d="M 815,790 C 790,860 740,910 680,940 C 630,955 580,960 540,990" stroke="#c98ac9" stroke-width="22.0"/>
<path d="M 640,950 L 660,1050" stroke="#c98ac9" stroke-width="14.0"/>
<path d="M 790,730 C 770,680 750,620 740,595 L 690,545" stroke="#c98ac9" stroke-width="20.0"/>
<path d="M 740,600 L 758,565" stroke="#c98ac9" stroke-width="14.0"/>
<path d="M 780,720 C 720,700 670,680 620,640" stroke="#c98ac9" stroke-width="20.0"/>
<path d="M 650,680 L 630,730" stroke="#c98ac9" stroke-width="14.0"/>
<path d="M 860,720 C 900,712 950,730 1000,765" stroke="#c98ac9" stroke-width="20.0"/>
<path d="M 840,805 C 880,812 940,815 990,815" stroke="#c98ac9" stroke-width="16.0"/>
<path d="M 745,780 C 760,860 800,930 860,975 L 910,995" stroke="#c98ac9" stroke-width="22.0"/>
<path d="M 995,760 C 990,710 975,660 955,620 L 950,570" stroke="#c98ac9" stroke-width="18.0"/>
<path d="M 985,690 C 1005,650 1030,620 1045,560" stroke="#c98ac9" stroke-width="16.0"/>
<path d="M 1030,630 L 1085,615" stroke="#c98ac9" stroke-width="12.0"/>
<path d="M 955,620 L 900,630" stroke="#c98ac9" stroke-width="12.0"/>
<path d="M 1030,770 L 1120,765" stroke="#c98ac9" stroke-width="16.0"/>
<path d="M 1000,800 C 995,850 985,900 975,960" stroke="#c98ac9" stroke-width="18.0"/>
<path d="M 1050,790 C 1080,830 1100,870 1130,920 L 1170,970" stroke="#c98ac9" stroke-width="16.0"/>
<path d="M 1100,870 L 1160,900" stroke="#c98ac9" stroke-width="12.0"/>
<path d="M 985,950 C 1020,920 1070,890 1120,850" stroke="#c98ac9" stroke-width="16.0"/>
<path d="M 965,1030 C 975,1080 970,1130 955,1180 L 945,1260" stroke="#c98ac9" stroke-width="20.0"/>
<path d="M 955,1190 L 990,1195" stroke="#c98ac9" stroke-width="12.0"/>
<path d="M 487,846 L 553,846 L 520,903 Z" fill="#a050a2" stroke="#a050a2" stroke-width="10"/>
<path d="M 776,722 L 864,722 L 820,801 Z" fill="#a050a2" stroke="#a050a2" stroke-width="10"/>
<path d="M 962,748 L 1037,748 L 1000,814 Z" fill="#a050a2" stroke="#a050a2" stroke-width="10"/>
<path d="M 891,957 L 979,957 L 935,1036 Z" fill="#a050a2" stroke="#a050a2" stroke-width="10"/>
</g>
<g transform="translate(198.00 -44.80) scale(-0.1200 0.1200)" fill="none" stroke-linecap="round" stroke-linejoin="round" opacity="0.85">
<path d="M 520,870 C 510,800 500,740 515,680 C 525,620 520,580 495,545" stroke="#d29fd2" stroke-width="23.0"/>
<path d="M 500,760 C 470,730 440,710 410,700" stroke="#d29fd2" stroke-width="18.4"/>
<path d="M 470,720 L 470,690" stroke="#d29fd2" stroke-width="13.8"/>
<path d="M 500,870 L 410,870" stroke="#d29fd2" stroke-width="18.4"/>
<path d="M 510,900 C 495,960 480,1020 460,1040 L 410,1080" stroke="#d29fd2" stroke-width="20.7"/>
<path d="M 480,985 L 435,970" stroke="#d29fd2" stroke-width="13.8"/>
<path d="M 555,875 C 600,880 640,880 680,860 C 720,840 740,810 750,780" stroke="#d29fd2" stroke-width="25.3"/>
<path d="M 750,780 C 740,750 720,730 690,720" stroke="#d29fd2" stroke-width="18.4"/>
<path d="M 640,880 C 665,940 675,1000 678,1050 L 690,1200" stroke="#d29fd2" stroke-width="20.7"/>
<path d="M 678,1050 L 720,1050" stroke="#d29fd2" stroke-width="13.8"/>
<path d="M 680,1150 L 710,1160" stroke="#d29fd2" stroke-width="13.8"/>
<path d="M 815,790 C 790,860 740,910 680,940 C 630,955 580,960 540,990" stroke="#d29fd2" stroke-width="25.3"/>
<path d="M 640,950 L 660,1050" stroke="#d29fd2" stroke-width="16.1"/>
<path d="M 790,730 C 770,680 750,620 740,595 L 690,545" stroke="#d29fd2" stroke-width="23.0"/>
<path d="M 740,600 L 758,565" stroke="#d29fd2" stroke-width="16.1"/>
<path d="M 780,720 C 720,700 670,680 620,640" stroke="#d29fd2" stroke-width="23.0"/>
<path d="M 650,680 L 630,730" stroke="#d29fd2" stroke-width="16.1"/>
<path d="M 860,720 C 900,712 950,730 1000,765" stroke="#d29fd2" stroke-width="23.0"/>
<path d="M 840,805 C 880,812 940,815 990,815" stroke="#d29fd2" stroke-width="18.4"/>
<path d="M 745,780 C 760,860 800,930 860,975 L 910,995" stroke="#d29fd2" stroke-width="25.3"/>
<path d="M 995,760 C 990,710 975,660 955,620 L 950,570" stroke="#d29fd2" stroke-width="20.7"/>
<path d="M 985,690 C 1005,650 1030,620 1045,560" stroke="#d29fd2" stroke-width="18.4"/>
<path d="M 1030,630 L 1085,615" stroke="#d29fd2" stroke-width="13.8"/>
<path d="M 955,620 L 900,630" stroke="#d29fd2" stroke-width="13.8"/>
<path d="M 1030,770 L 1120,765" stroke="#d29fd2" stroke-width="18.4"/>
<path d="M 1000,800 C 995,850 985,900 975,960" stroke="#d29fd2" stroke-width="20.7"/>
<path d="M 1050,790 C 1080,830 1100,870 1130,920 L 1170,970" stroke="#d29fd2" stroke-width="18.4"/>
<path d="M 1100,870 L 1160,900" stroke="#d29fd2" stroke-width="13.8"/>
<path d="M 985,950 C 1020,920 1070,890 1120,850" stroke="#d29fd2" stroke-width="18.4"/>
<path d="M 965,1030 C 975,1080 970,1130 955,1180 L 945,1260" stroke="#d29fd2" stroke-width="23.0"/>
<path d="M 955,1190 L 990,1195" stroke="#d29fd2" stroke-width="13.8"/>
<path d="M 487,846 L 553,846 L 520,903 Z" fill="#a85aa8" stroke="#a85aa8" stroke-width="10"/>
<path d="M 776,722 L 864,722 L 820,801 Z" fill="#a85aa8" stroke="#a85aa8" stroke-width="10"/>
<path d="M 962,748 L 1037,748 L 1000,814 Z" fill="#a85aa8" stroke="#a85aa8" stroke-width="10"/>
<path d="M 891,957 L 979,957 L 935,1036 Z" fill="#a85aa8" stroke="#a85aa8" stroke-width="10"/>
</g>
</g>
<text x="2262.0" y="163.1" font-size="96.66" font-weight="bold" fill="#000" textLength="66.7" lengthAdjust="spacingAndGlyphs">B</text>
<text x="2420.3" y="301.2" font-size="68.32" fill="#000" textLength="114.5" lengthAdjust="spacingAndGlyphs">PBS</text>
<text x="2413.9" y="671.7" font-size="66.86" fill="#000" textLength="141.9" lengthAdjust="spacingAndGlyphs">Il-1<tspan fill="#4a4d55">β</tspan></text>
<text x="3633.0" y="590.2" font-size="67.44" fill="#000" textLength="111.5" lengthAdjust="spacingAndGlyphs">IL-6</text>
<text x="3633.0" y="710.0" font-size="67.44" fill="#000" textLength="111.5" lengthAdjust="spacingAndGlyphs">IL-8</text>
<rect x="2575" y="137.3" width="880" height="280" fill="url(#bl1)"/>
<rect x="2575" y="468" width="868" height="314" fill="url(#bl2)"/>
<ellipse cx="2640" cy="300" rx="90" ry="110" fill="url(#bl1h)" clip-path="url(#cb1)"/>
<rect x="2575" y="137.3" width="880" height="6" fill="#cdcdcd" opacity="0.6"/>
<circle cx="2615.4" cy="196.8" r="10.5" fill="rgb(12,12,12)" filter="url(#blur1)"/>
<circle cx="2651.8" cy="195.7" r="10.2" fill="rgb(22,22,22)" filter="url(#blur1)"/>
<circle cx="3371.4" cy="182.5" r="10.0" fill="rgb(60,60,60)" filter="url(#blur1)"/>
<circle cx="3408.2" cy="181.4" r="10.0" fill="rgb(55,55,55)" filter="url(#blur1)"/>
<circle cx="2622.5" cy="374.3" r="9.5" fill="rgb(55,55,55)" filter="url(#blur1)"/>
<circle cx="2658.2" cy="373.6" r="9.5" fill="rgb(60,60,60)" filter="url(#blur1)"/>
<circle cx="2787.9" cy="368.2" r="9.5" fill="url(#sp1)" filter="url(#blur1)"/>
<circle cx="2823.6" cy="367.1" r="9.5" fill="url(#sp2)" filter="url(#blur1)"/>
<circle cx="2616.0" cy="562.5" r="10.0" fill="rgb(15,15,15)" filter="url(#blur1)"/>
<circle cx="2652.1" cy="560.7" r="10.0" fill="rgb(55,55,55)" filter="url(#blur1)"/>
<circle cx="3364.3" cy="531.4" r="10.5" fill="rgb(12,12,12)" filter="url(#blur1)"/>
<circle cx="3401.1" cy="529.3" r="10.5" fill="rgb(12,12,12)" filter="url(#blur1)"/>
<circle cx="3202.9" cy="535.7" r="10.0" fill="rgb(192,192,192)" filter="url(#blur1)"/>
<circle cx="3240.4" cy="535.0" r="10.0" fill="rgb(192,192,192)" filter="url(#blur1)"/>
<circle cx="3041.0" cy="634.0" r="9.5" fill="url(#sp3)" filter="url(#blur1)"/>
<circle cx="3076.8" cy="633.2" r="9.5" fill="url(#sp4)" filter="url(#blur1)"/>
<circle cx="3114.3" cy="631.4" r="9.5" fill="url(#sp5)" filter="url(#blur1)"/>
<circle cx="3151.0" cy="630.4" r="9.5" fill="url(#sp6)" filter="url(#blur1)"/>
<circle cx="2622.5" cy="729.3" r="9.5" fill="url(#sp7)" filter="url(#blur1)"/>
<circle cx="2658.2" cy="727.5" r="9.5" fill="url(#sp8)" filter="url(#blur1)"/>
<circle cx="2783.2" cy="717.9" r="9.0" fill="url(#sp9)" filter="url(#blur1)"/>
<circle cx="2819.6" cy="716.1" r="9.0" fill="url(#sp10)" filter="url(#blur1)"/>
<circle cx="2761.8" cy="154.6" r="1.6" fill="#333"/>
<circle cx="2771.4" cy="167.1" r="1.6" fill="#333"/>
<circle cx="2758.2" cy="209.3" r="1.6" fill="#333"/>
<circle cx="2786.8" cy="186.8" r="1.6" fill="#333"/>
<circle cx="3030.7" cy="167.5" r="1.6" fill="#333"/>
<circle cx="3116.4" cy="193.9" r="1.6" fill="#333"/>
<circle cx="2872.5" cy="314.6" r="1.6" fill="#333"/>
<circle cx="3126.0" cy="340.4" r="1.6" fill="#333"/>
<circle cx="2907.0" cy="407.5" r="1.6" fill="#333"/>
<circle cx="2742.0" cy="538.2" r="1.6" fill="#333"/>
<circle cx="3085.0" cy="509.6" r="1.6" fill="#333"/>
<circle cx="3195.7" cy="484.6" r="1.6" fill="#333"/>
<circle cx="3236.8" cy="490.4" r="1.6" fill="#333"/>
<circle cx="3385.7" cy="474.3" r="1.6" fill="#333"/>
<circle cx="3044.0" cy="566.8" r="1.6" fill="#333"/>
<circle cx="3328.6" cy="704.6" r="1.6" fill="#333"/>
<circle cx="2619.0" cy="765.0" r="1.6" fill="#333"/>
<circle cx="2856.4" cy="740.0" r="1.6" fill="#333"/>
<circle cx="3096.8" cy="637.5" r="1.6" fill="#333"/>
<circle cx="2929.6" cy="177.1" r="1.6" fill="#ff2020"/>
<rect x="3000.4" y="609.3" width="207.9" height="79.2" fill="none" stroke="#ff0000" stroke-width="14.3"/>
<polygon points="3552.9,519.7 3581,547.9 3567.2,547.9 3567.2,688.5 3538.6,688.5 3538.6,547.9 3524.7,547.9" fill="#ff0000" stroke="#2f3b8f" stroke-width="2"/>
<text x="2262.3" y="1015.8" font-size="93.75" font-weight="bold" fill="#000" textLength="64.5" lengthAdjust="spacingAndGlyphs">C</text>
<rect x="2595.3" y="1008.6" width="5.6" height="659.9" fill="#000"/>
<rect x="2595.3" y="1648.2" width="968.1" height="6" fill="#000"/>
<rect x="2581.0" y="1583.8" width="17.5" height="6.4" fill="#000"/>
<rect x="2581.0" y="1455.5" width="17.5" height="6.4" fill="#000"/>
<rect x="2581.0" y="1327.3" width="17.5" height="6.4" fill="#000"/>
<rect x="2581.0" y="1199.0" width="17.5" height="6.4" fill="#000"/>
<rect x="2581.0" y="1070.7" width="17.5" height="6.4" fill="#000"/>
<rect x="2915.7" y="1651" width="6.2" height="17.5" fill="#000"/>
<rect x="3236.3" y="1651" width="6.2" height="17.5" fill="#000"/>
<rect x="3557.0" y="1651" width="6.2" height="17.5" fill="#000"/>
<text x="2494.6" y="1599.6" font-size="48.26" font-weight="bold" fill="#000" textLength="77.3" lengthAdjust="spacingAndGlyphs">100</text>
<text x="2495.9" y="1471.3" font-size="48.26" font-weight="bold" fill="#000" textLength="75.9" lengthAdjust="spacingAndGlyphs">200</text>
<text x="2496.5" y="1343.1" font-size="48.26" font-weight="bold" fill="#000" textLength="75.4" lengthAdjust="spacingAndGlyphs">300</text>
<text x="2496.8" y="1214.8" font-size="48.26" font-weight="bold" fill="#000" textLength="75.0" lengthAdjust="spacingAndGlyphs">400</text>
<text x="2496.1" y="1086.5" font-size="48.26" font-weight="bold" fill="#000" textLength="75.8" lengthAdjust="spacingAndGlyphs">500</text>
<text x="2583.9" y="1720.3" font-size="48.26" font-weight="bold" fill="#000" textLength="26.5" lengthAdjust="spacingAndGlyphs">0</text>
<text x="2892.0" y="1720.3" font-size="48.26" font-weight="bold" fill="#000" textLength="50.8" lengthAdjust="spacingAndGlyphs">50</text>
<text x="3198.1" y="1720.3" font-size="48.26" font-weight="bold" fill="#000" textLength="78.2" lengthAdjust="spacingAndGlyphs">100</text>
<text x="3518.6" y="1720.3" font-size="48.26" font-weight="bold" fill="#000" textLength="79.0" lengthAdjust="spacingAndGlyphs">150</text>
<text x="3008.1" y="1789.8" font-size="53.49" fill="#000" textLength="137.8" lengthAdjust="spacingAndGlyphs">Hours</text>
<text transform="translate(2398.1 1691.1) rotate(-90)" x="-3.6" y="0" font-size="54.94" font-weight="bold" fill="#000" textLength="737.6" lengthAdjust="spacingAndGlyphs">Neurite Length per Cell-Body</text>
<text transform="translate(2461.4 1720.2) rotate(-90)" x="-2.2" y="0" font-size="55.23" font-weight="bold" fill="#000" textLength="790.0" lengthAdjust="spacingAndGlyphs">Cluster Area [Phase] (mm/mm²)</text>
<g fill="#ff0000" stroke="none">
<rect x="2747.8" y="1397.7" width="8.5" height="20.8"/>
<rect x="2745.5" y="1394.2" width="13" height="7" rx="1.5"/>
<rect x="2745.5" y="1415.0" width="13" height="7" rx="1.5"/>
<rect x="2773.4" y="1396.0" width="8.5" height="29.8"/>
<rect x="2771.2" y="1392.5" width="13" height="7" rx="1.5"/>
<rect x="2771.2" y="1422.3" width="13" height="7" rx="1.5"/>
<rect x="2799.1" y="1391.7" width="8.5" height="19.4"/>
<rect x="2796.8" y="1388.2" width="13" height="7" rx="1.5"/>
<rect x="2796.8" y="1407.6" width="13" height="7" rx="1.5"/>
<rect x="2824.7" y="1375.2" width="8.5" height="26.8"/>
<rect x="2822.5" y="1371.7" width="13" height="7" rx="1.5"/>
<rect x="2822.5" y="1398.5" width="13" height="7" rx="1.5"/>
<rect x="2850.4" y="1368.1" width="8.5" height="35.0"/>
<rect x="2848.1" y="1364.6" width="13" height="7" rx="1.5"/>
<rect x="2848.1" y="1399.6" width="13" height="7" rx="1.5"/>
<rect x="2876.0" y="1375.7" width="8.5" height="24.0"/>
<rect x="2873.8" y="1372.2" width="13" height="7" rx="1.5"/>
<rect x="2873.8" y="1396.2" width="13" height="7" rx="1.5"/>
<rect x="2901.7" y="1360.6" width="8.5" height="26.0"/>
<rect x="2899.4" y="1357.1" width="13" height="7" rx="1.5"/>
<rect x="2899.4" y="1383.1" width="13" height="7" rx="1.5"/>
<rect x="2927.3" y="1354.5" width="8.5" height="41.0"/>
<rect x="2925.1" y="1351.0" width="13" height="7" rx="1.5"/>
<rect x="2925.1" y="1392.0" width="13" height="7" rx="1.5"/>
<rect x="2953.0" y="1327.8" width="8.5" height="41.0"/>
<rect x="2950.7" y="1324.3" width="13" height="7" rx="1.5"/>
<rect x="2950.7" y="1365.3" width="13" height="7" rx="1.5"/>
<rect x="2978.7" y="1331.1" width="8.5" height="40.2"/>
<rect x="2976.4" y="1327.6" width="13" height="7" rx="1.5"/>
<rect x="2976.4" y="1367.8" width="13" height="7" rx="1.5"/>
<rect x="3004.3" y="1325.2" width="8.5" height="44.6"/>
<rect x="3002.1" y="1321.7" width="13" height="7" rx="1.5"/>
<rect x="3002.1" y="1366.3" width="13" height="7" rx="1.5"/>
<rect x="3030.0" y="1329.9" width="8.5" height="36.0"/>
<rect x="3027.7" y="1326.4" width="13" height="7" rx="1.5"/>
<rect x="3027.7" y="1362.4" width="13" height="7" rx="1.5"/>
<rect x="3055.6" y="1334.2" width="8.5" height="36.4"/>
<rect x="3053.4" y="1330.7" width="13" height="7" rx="1.5"/>
<rect x="3053.4" y="1367.1" width="13" height="7" rx="1.5"/>
<rect x="3081.3" y="1330.0" width="8.5" height="38.6"/>
<rect x="3079.0" y="1326.5" width="13" height="7" rx="1.5"/>
<rect x="3079.0" y="1365.1" width="13" height="7" rx="1.5"/>
<rect x="3106.9" y="1331.1" width="8.5" height="30.2"/>
<rect x="3104.7" y="1327.6" width="13" height="7" rx="1.5"/>
<rect x="3104.7" y="1357.8" width="13" height="7" rx="1.5"/>
<rect x="3132.6" y="1307.1" width="8.5" height="34.4"/>
<rect x="3130.3" y="1303.6" width="13" height="7" rx="1.5"/>
<rect x="3130.3" y="1338.0" width="13" height="7" rx="1.5"/>
<rect x="3158.2" y="1295.6" width="8.5" height="38.6"/>
<rect x="3156.0" y="1292.1" width="13" height="7" rx="1.5"/>
<rect x="3156.0" y="1330.7" width="13" height="7" rx="1.5"/>
<rect x="3183.9" y="1269.6" width="8.5" height="40.6"/>
<rect x="3181.6" y="1266.1" width="13" height="7" rx="1.5"/>
<rect x="3181.6" y="1306.7" width="13" height="7" rx="1.5"/>
<rect x="3209.5" y="1267.5" width="8.5" height="44.8"/>
<rect x="3207.3" y="1264.0" width="13" height="7" rx="1.5"/>
<rect x="3207.3" y="1308.8" width="13" height="7" rx="1.5"/>
<rect x="3235.2" y="1236.9" width="8.5" height="43.8"/>
<rect x="3232.9" y="1233.4" width="13" height="7" rx="1.5"/>
<rect x="3232.9" y="1277.2" width="13" height="7" rx="1.5"/>
<rect x="3260.8" y="1211.8" width="8.5" height="48.0"/>
<rect x="3258.6" y="1208.3" width="13" height="7" rx="1.5"/>
<rect x="3258.6" y="1256.3" width="13" height="7" rx="1.5"/>
<rect x="3286.5" y="1232.7" width="8.5" height="44.6"/>
<rect x="3284.2" y="1229.2" width="13" height="7" rx="1.5"/>
<rect x="3284.2" y="1273.8" width="13" height="7" rx="1.5"/>
<rect x="3312.1" y="1213.0" width="8.5" height="50.2"/>
<rect x="3309.9" y="1209.5" width="13" height="7" rx="1.5"/>
<rect x="3309.9" y="1259.7" width="13" height="7" rx="1.5"/>
<rect x="3337.8" y="1207.8" width="8.5" height="52.2"/>
<rect x="3335.5" y="1204.3" width="13" height="7" rx="1.5"/>
<rect x="3335.5" y="1256.5" width="13" height="7" rx="1.5"/>
<rect x="3363.4" y="1195.3" width="8.5" height="46.4"/>
<rect x="3361.2" y="1191.8" width="13" height="7" rx="1.5"/>
<rect x="3361.2" y="1238.2" width="13" height="7" rx="1.5"/>
<rect x="3389.1" y="1176.8" width="8.5" height="56.2"/>
<rect x="3386.9" y="1173.3" width="13" height="7" rx="1.5"/>
<rect x="3386.9" y="1229.5" width="13" height="7" rx="1.5"/>
<rect x="3414.8" y="1184.7" width="8.5" height="56.0"/>
<rect x="3412.5" y="1181.2" width="13" height="7" rx="1.5"/>
<rect x="3412.5" y="1237.2" width="13" height="7" rx="1.5"/>
<rect x="3440.4" y="1182.8" width="8.5" height="56.0"/>
<rect x="3438.2" y="1179.3" width="13" height="7" rx="1.5"/>
<rect x="3438.2" y="1235.3" width="13" height="7" rx="1.5"/>
<rect x="3466.1" y="1184.7" width="8.5" height="52.2"/>
<rect x="3463.8" y="1181.2" width="13" height="7" rx="1.5"/>
<rect x="3463.8" y="1233.4" width="13" height="7" rx="1.5"/>
<rect x="3491.7" y="1162.3" width="8.5" height="62.0"/>
<rect x="3489.5" y="1158.8" width="13" height="7" rx="1.5"/>
<rect x="3489.5" y="1220.8" width="13" height="7" rx="1.5"/>
</g>
<polyline points="2598.1,1606.4 2623.8,1554.6 2649.4,1576.1 2675.1,1567.3 2700.7,1544.4 2726.4,1546.9 2752.0,1408.1 2777.7,1410.9 2803.3,1401.4 2829.0,1388.6 2854.6,1385.6 2880.3,1387.7 2905.9,1373.6 2931.6,1375.0 2957.2,1348.3 2982.9,1351.2 3008.6,1347.5 3034.2,1347.9 3059.9,1352.4 3085.5,1349.3 3111.2,1346.2 3136.8,1324.3 3162.5,1314.9 3188.1,1289.9 3213.8,1289.9 3239.4,1258.8 3265.1,1235.8 3290.7,1255.0 3316.4,1238.1 3342.0,1233.9 3367.7,1218.5 3393.4,1204.9 3419.0,1212.7 3444.7,1210.8 3470.3,1210.8 3496.0,1193.3" fill="none" stroke="#ff0000" stroke-width="5.2" stroke-linejoin="round"/>
<g fill="#ff0000">
<rect x="2591.6" y="1599.9" width="13" height="13"/>
<rect x="2617.3" y="1548.1" width="13" height="13"/>
<rect x="2642.9" y="1569.6" width="13" height="13"/>
<rect x="2668.6" y="1560.8" width="13" height="13"/>
<rect x="2694.2" y="1537.9" width="13" height="13"/>
<rect x="2719.9" y="1540.4" width="13" height="13"/>
<rect x="2745.5" y="1401.6" width="13" height="13"/>
<rect x="2771.2" y="1404.4" width="13" height="13"/>
<rect x="2796.8" y="1394.9" width="13" height="13"/>
<rect x="2822.5" y="1382.1" width="13" height="13"/>
<rect x="2848.1" y="1379.1" width="13" height="13"/>
<rect x="2873.8" y="1381.2" width="13" height="13"/>
<rect x="2899.4" y="1367.1" width="13" height="13"/>
<rect x="2925.1" y="1368.5" width="13" height="13"/>
<rect x="2950.7" y="1341.8" width="13" height="13"/>
<rect x="2976.4" y="1344.7" width="13" height="13"/>
<rect x="3002.1" y="1341.0" width="13" height="13"/>
<rect x="3027.7" y="1341.4" width="13" height="13"/>
<rect x="3053.4" y="1345.9" width="13" height="13"/>
<rect x="3079.0" y="1342.8" width="13" height="13"/>
<rect x="3104.7" y="1339.7" width="13" height="13"/>
<rect x="3130.3" y="1317.8" width="13" height="13"/>
<rect x="3156.0" y="1308.4" width="13" height="13"/>
<rect x="3181.6" y="1283.4" width="13" height="13"/>
<rect x="3207.3" y="1283.4" width="13" height="13"/>
<rect x="3232.9" y="1252.3" width="13" height="13"/>
<rect x="3258.6" y="1229.3" width="13" height="13"/>
<rect x="3284.2" y="1248.5" width="13" height="13"/>
<rect x="3309.9" y="1231.6" width="13" height="13"/>
<rect x="3335.5" y="1227.4" width="13" height="13"/>
<rect x="3361.2" y="1212.0" width="13" height="13"/>
<rect x="3386.9" y="1198.4" width="13" height="13"/>
<rect x="3412.5" y="1206.2" width="13" height="13"/>
<rect x="3438.2" y="1204.3" width="13" height="13"/>
<rect x="3463.8" y="1204.3" width="13" height="13"/>
<rect x="3489.5" y="1186.8" width="13" height="13"/>
</g>
<g fill="#0000ff" stroke="none">
<rect x="2747.8" y="1372.2" width="8.5" height="26.8"/>
<rect x="2745.5" y="1368.7" width="13" height="7" rx="1.5"/>
<rect x="2745.5" y="1395.5" width="13" height="7" rx="1.5"/>
<rect x="2773.4" y="1387.1" width="8.5" height="31.2"/>
<rect x="2771.2" y="1383.6" width="13" height="7" rx="1.5"/>
<rect x="2771.2" y="1414.8" width="13" height="7" rx="1.5"/>
<rect x="2799.1" y="1404.5" width="8.5" height="27.6"/>
<rect x="2796.8" y="1401.0" width="13" height="7" rx="1.5"/>
<rect x="2796.8" y="1428.6" width="13" height="7" rx="1.5"/>
<rect x="2824.7" y="1396.2" width="8.5" height="26.8"/>
<rect x="2822.5" y="1392.7" width="13" height="7" rx="1.5"/>
<rect x="2822.5" y="1419.5" width="13" height="7" rx="1.5"/>
<rect x="2850.4" y="1380.4" width="8.5" height="26.8"/>
<rect x="2848.1" y="1376.9" width="13" height="7" rx="1.5"/>
<rect x="2848.1" y="1403.7" width="13" height="7" rx="1.5"/>
<rect x="2876.0" y="1366.6" width="8.5" height="29.8"/>
<rect x="2873.8" y="1363.1" width="13" height="7" rx="1.5"/>
<rect x="2873.8" y="1392.9" width="13" height="7" rx="1.5"/>
<rect x="2901.7" y="1345.4" width="8.5" height="34.2"/>
<rect x="2899.4" y="1341.9" width="13" height="7" rx="1.5"/>
<rect x="2899.4" y="1376.1" width="13" height="7" rx="1.5"/>
<rect x="2927.3" y="1316.8" width="8.5" height="38.8"/>
<rect x="2925.1" y="1313.3" width="13" height="7" rx="1.5"/>
<rect x="2925.1" y="1352.1" width="13" height="7" rx="1.5"/>
<rect x="2953.0" y="1305.3" width="8.5" height="35.0"/>
<rect x="2950.7" y="1301.8" width="13" height="7" rx="1.5"/>
<rect x="2950.7" y="1336.8" width="13" height="7" rx="1.5"/>
<rect x="2978.7" y="1302.7" width="8.5" height="30.6"/>
<rect x="2976.4" y="1299.2" width="13" height="7" rx="1.5"/>
<rect x="2976.4" y="1329.8" width="13" height="7" rx="1.5"/>
<rect x="3004.3" y="1289.1" width="8.5" height="26.0"/>
<rect x="3002.1" y="1285.6" width="13" height="7" rx="1.5"/>
<rect x="3002.1" y="1311.6" width="13" height="7" rx="1.5"/>
<rect x="3030.0" y="1296.3" width="8.5" height="33.6"/>
<rect x="3027.7" y="1292.8" width="13" height="7" rx="1.5"/>
<rect x="3027.7" y="1326.4" width="13" height="7" rx="1.5"/>
<rect x="3055.6" y="1296.2" width="8.5" height="29.2"/>
<rect x="3053.4" y="1292.7" width="13" height="7" rx="1.5"/>
<rect x="3053.4" y="1321.9" width="13" height="7" rx="1.5"/>
<rect x="3081.3" y="1272.2" width="8.5" height="35.4"/>
<rect x="3079.0" y="1268.7" width="13" height="7" rx="1.5"/>
<rect x="3079.0" y="1304.1" width="13" height="7" rx="1.5"/>
<rect x="3106.9" y="1248.3" width="8.5" height="41.6"/>
<rect x="3104.7" y="1244.8" width="13" height="7" rx="1.5"/>
<rect x="3104.7" y="1286.4" width="13" height="7" rx="1.5"/>
<rect x="3132.6" y="1238.9" width="8.5" height="35.4"/>
<rect x="3130.3" y="1235.4" width="13" height="7" rx="1.5"/>
<rect x="3130.3" y="1270.8" width="13" height="7" rx="1.5"/>
<rect x="3158.2" y="1243.1" width="8.5" height="39.6"/>
<rect x="3156.0" y="1239.6" width="13" height="7" rx="1.5"/>
<rect x="3156.0" y="1279.2" width="13" height="7" rx="1.5"/>
<rect x="3183.9" y="1206.0" width="8.5" height="47.0"/>
<rect x="3181.6" y="1202.5" width="13" height="7" rx="1.5"/>
<rect x="3181.6" y="1249.5" width="13" height="7" rx="1.5"/>
<rect x="3209.5" y="1196.7" width="8.5" height="44.8"/>
<rect x="3207.3" y="1193.2" width="13" height="7" rx="1.5"/>
<rect x="3207.3" y="1238.0" width="13" height="7" rx="1.5"/>
<rect x="3235.2" y="1180.1" width="8.5" height="53.2"/>
<rect x="3232.9" y="1176.6" width="13" height="7" rx="1.5"/>
<rect x="3232.9" y="1229.8" width="13" height="7" rx="1.5"/>
<rect x="3260.8" y="1163.0" width="8.5" height="45.8"/>
<rect x="3258.6" y="1159.5" width="13" height="7" rx="1.5"/>
<rect x="3258.6" y="1205.3" width="13" height="7" rx="1.5"/>
<rect x="3286.5" y="1163.4" width="8.5" height="44.8"/>
<rect x="3284.2" y="1159.9" width="13" height="7" rx="1.5"/>
<rect x="3284.2" y="1204.7" width="13" height="7" rx="1.5"/>
<rect x="3312.1" y="1153.8" width="8.5" height="55.0"/>
<rect x="3309.9" y="1150.3" width="13" height="7" rx="1.5"/>
<rect x="3309.9" y="1205.3" width="13" height="7" rx="1.5"/>
<rect x="3337.8" y="1150.3" width="8.5" height="47.4"/>
<rect x="3335.5" y="1146.8" width="13" height="7" rx="1.5"/>
<rect x="3335.5" y="1194.2" width="13" height="7" rx="1.5"/>
<rect x="3363.4" y="1111.1" width="8.5" height="60.0"/>
<rect x="3361.2" y="1107.6" width="13" height="7" rx="1.5"/>
<rect x="3361.2" y="1167.6" width="13" height="7" rx="1.5"/>
<rect x="3389.1" y="1098.0" width="8.5" height="55.2"/>
<rect x="3386.9" y="1094.5" width="13" height="7" rx="1.5"/>
<rect x="3386.9" y="1149.7" width="13" height="7" rx="1.5"/>
<rect x="3414.8" y="1120.8" width="8.5" height="56.0"/>
<rect x="3412.5" y="1117.3" width="13" height="7" rx="1.5"/>
<rect x="3412.5" y="1173.3" width="13" height="7" rx="1.5"/>
<rect x="3440.4" y="1089.8" width="8.5" height="71.6"/>
<rect x="3438.2" y="1086.3" width="13" height="7" rx="1.5"/>
<rect x="3438.2" y="1157.9" width="13" height="7" rx="1.5"/>
<rect x="3466.1" y="1083.4" width="8.5" height="64.8"/>
<rect x="3463.8" y="1079.9" width="13" height="7" rx="1.5"/>
<rect x="3463.8" y="1144.7" width="13" height="7" rx="1.5"/>
<rect x="3491.7" y="1067.6" width="8.5" height="69.6"/>
<rect x="3489.5" y="1064.1" width="13" height="7" rx="1.5"/>
<rect x="3489.5" y="1133.7" width="13" height="7" rx="1.5"/>
</g>
<polyline points="2598.1,1620.4 2623.8,1563.4 2649.4,1586.3 2675.1,1572.4 2700.7,1552.0 2726.4,1530.6 2752.0,1385.6 2777.7,1402.7 2803.3,1418.3 2829.0,1409.6 2854.6,1393.8 2880.3,1381.5 2905.9,1362.5 2931.6,1336.2 2957.2,1322.8 2982.9,1318.0 3008.6,1302.1 3034.2,1313.1 3059.9,1310.8 3085.5,1289.9 3111.2,1269.1 3136.8,1256.6 3162.5,1262.9 3188.1,1229.5 3213.8,1219.1 3239.4,1206.7 3265.1,1185.9 3290.7,1185.8 3316.4,1181.3 3342.0,1174.0 3367.7,1141.1 3393.4,1125.6 3419.0,1148.8 3444.7,1125.6 3470.3,1115.8 3496.0,1102.4" fill="none" stroke="#0000ff" stroke-width="5.2" stroke-linejoin="round"/>
<g fill="#0000ff">
<circle cx="2598.1" cy="1620.4" r="7"/>
<circle cx="2623.8" cy="1563.4" r="7"/>
<circle cx="2649.4" cy="1586.3" r="7"/>
<circle cx="2675.1" cy="1572.4" r="7"/>
<circle cx="2700.7" cy="1552.0" r="7"/>
<circle cx="2726.4" cy="1530.6" r="7"/>
<circle cx="2752.0" cy="1385.6" r="7"/>
<circle cx="2777.7" cy="1402.7" r="7"/>
<circle cx="2803.3" cy="1418.3" r="7"/>
<circle cx="2829.0" cy="1409.6" r="7"/>
<circle cx="2854.6" cy="1393.8" r="7"/>
<circle cx="2880.3" cy="1381.5" r="7"/>
<circle cx="2905.9" cy="1362.5" r="7"/>
<circle cx="2931.6" cy="1336.2" r="7"/>
<circle cx="2957.2" cy="1322.8" r="7"/>
<circle cx="2982.9" cy="1318.0" r="7"/>
<circle cx="3008.6" cy="1302.1" r="7"/>
<circle cx="3034.2" cy="1313.1" r="7"/>
<circle cx="3059.9" cy="1310.8" r="7"/>
<circle cx="3085.5" cy="1289.9" r="7"/>
<circle cx="3111.2" cy="1269.1" r="7"/>
<circle cx="3136.8" cy="1256.6" r="7"/>
<circle cx="3162.5" cy="1262.9" r="7"/>
<circle cx="3188.1" cy="1229.5" r="7"/>
<circle cx="3213.8" cy="1219.1" r="7"/>
<circle cx="3239.4" cy="1206.7" r="7"/>
<circle cx="3265.1" cy="1185.9" r="7"/>
<circle cx="3290.7" cy="1185.8" r="7"/>
<circle cx="3316.4" cy="1181.3" r="7"/>
<circle cx="3342.0" cy="1174.0" r="7"/>
<circle cx="3367.7" cy="1141.1" r="7"/>
<circle cx="3393.4" cy="1125.6" r="7"/>
<circle cx="3419.0" cy="1148.8" r="7"/>
<circle cx="3444.7" cy="1125.6" r="7"/>
<circle cx="3470.3" cy="1115.8" r="7"/>
<circle cx="3496.0" cy="1102.4" r="7"/>
</g>
<path d="M 3516.2,1091.3 L 3549.5,1091.3 L 3549.5,1202.6 L 3516.2,1202.6" fill="none" stroke="#000" stroke-width="2.4"/>
<text x="3562.7" y="1169.0" font-size="36.00" fill="#000" textLength="21.1" lengthAdjust="spacingAndGlyphs">*</text>
<rect x="3192.9" y="1470.2" width="69.3" height="5.5" fill="#0000ff"/>
<circle cx="3227.5" cy="1472.9" r="5.5" fill="#0000ff"/>
<rect x="3192.9" y="1543.2" width="69.3" height="5.5" fill="#ff0000"/>
<rect x="3221.5" y="1539.9" width="12" height="12" rx="3" fill="#ff0000"/>
<text x="3298.9" y="1489.0" font-size="59.16" fill="#000" textLength="227.7" lengthAdjust="spacingAndGlyphs">PBS Stim</text>
<text x="3298.4" y="1562.3" font-size="58.29" fill="#000" textLength="232.0" lengthAdjust="spacingAndGlyphs">IL1B Stim</text>
</svg>
</body></html>
